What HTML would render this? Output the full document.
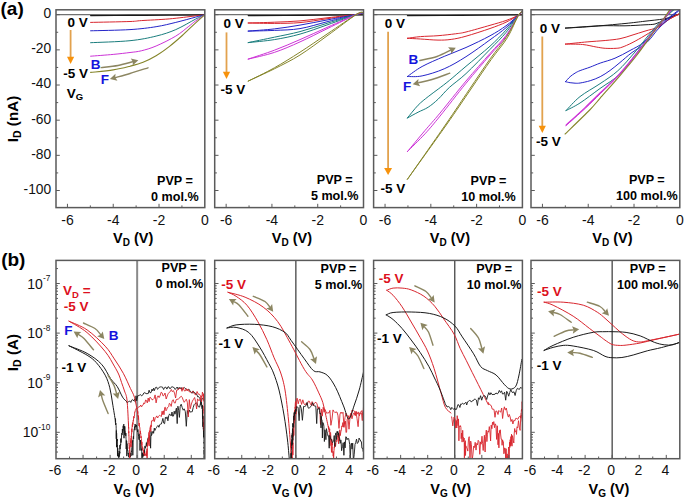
<!DOCTYPE html>
<html><head><meta charset="utf-8"><style>
html,body{margin:0;padding:0;background:#fff;}
svg{display:block;font-family:"Liberation Sans", sans-serif;}
</style></head><body>
<svg width="685" height="497" viewBox="0 0 685 497">
<defs><clipPath id="ct0"><rect x="56.0" y="9.8" width="148.8" height="197.79999999999998"/></clipPath><clipPath id="cb0"><rect x="56.0" y="260.4" width="148.8" height="198.3"/></clipPath><clipPath id="ct1"><rect x="214.7" y="9.8" width="148.8" height="197.79999999999998"/></clipPath><clipPath id="cb1"><rect x="214.7" y="260.4" width="148.8" height="198.3"/></clipPath><clipPath id="ct2"><rect x="373.6" y="9.8" width="148.8" height="197.79999999999998"/></clipPath><clipPath id="cb2"><rect x="373.6" y="260.4" width="148.8" height="198.3"/></clipPath><clipPath id="ct3"><rect x="531.0" y="9.8" width="148.8" height="197.79999999999998"/></clipPath><clipPath id="cb3"><rect x="531.0" y="260.4" width="148.8" height="198.3"/></clipPath></defs>
<rect width="685" height="497" fill="#fff"/>
<line x1="56.00" y1="14.70" x2="204.80" y2="14.70" stroke="#707070" stroke-width="1.3"/>
<line x1="137.16" y1="260.40" x2="137.16" y2="458.70" stroke="#8a8a8a" stroke-width="2.0"/>
<line x1="214.70" y1="14.70" x2="363.50" y2="14.70" stroke="#707070" stroke-width="1.3"/>
<line x1="295.86" y1="260.40" x2="295.86" y2="458.70" stroke="#454545" stroke-width="1.3"/>
<line x1="373.60" y1="14.70" x2="522.40" y2="14.70" stroke="#707070" stroke-width="1.3"/>
<line x1="454.76" y1="260.40" x2="454.76" y2="458.70" stroke="#454545" stroke-width="1.3"/>
<line x1="531.00" y1="14.70" x2="679.80" y2="14.70" stroke="#707070" stroke-width="1.3"/>
<line x1="612.16" y1="260.40" x2="612.16" y2="458.70" stroke="#454545" stroke-width="1.3"/>
<path d="M90.60,15.60 C97.17,15.57 116.77,15.47 130.00,15.40 C143.23,15.33 157.53,15.30 170.00,15.20 C182.47,15.10 199.00,14.87 204.80,14.80" fill="none" stroke="#1a1a1a" stroke-width="1.2" stroke-linejoin="round" stroke-linecap="round" opacity="1.0" clip-path="url(#ct0)"/>
<path d="M90.60,22.40 C97.17,22.25 121.55,21.80 130.00,21.50 C138.45,21.20 134.77,21.03 141.30,20.60 C147.83,20.17 160.18,19.68 169.20,18.90 C178.22,18.12 189.47,16.58 195.40,15.90 C201.33,15.22 203.23,14.98 204.80,14.80" fill="none" stroke="#d8262e" stroke-width="1.0" stroke-linejoin="round" stroke-linecap="round" opacity="1.0" clip-path="url(#ct0)"/>
<path d="M90.60,30.80 C97.17,30.60 119.08,30.28 130.00,29.60 C140.92,28.92 148.47,27.90 156.10,26.70 C163.73,25.50 169.25,23.98 175.80,22.40 C182.35,20.82 190.57,18.47 195.40,17.20 C200.23,15.93 203.23,15.20 204.80,14.80" fill="none" stroke="#2424c8" stroke-width="1.0" stroke-linejoin="round" stroke-linecap="round" opacity="1.0" clip-path="url(#ct0)"/>
<path d="M90.60,42.70 C97.17,42.37 119.08,41.80 130.00,40.70 C140.92,39.60 148.47,37.95 156.10,36.10 C163.73,34.25 169.25,32.42 175.80,29.60 C182.35,26.78 190.57,21.67 195.40,19.20 C200.23,16.73 203.23,15.53 204.80,14.80" fill="none" stroke="#1a7d7d" stroke-width="1.0" stroke-linejoin="round" stroke-linecap="round" opacity="1.0" clip-path="url(#ct0)"/>
<path d="M90.60,56.20 C94.37,55.90 106.63,55.02 113.20,54.40 C119.77,53.78 125.32,53.10 130.00,52.50 C134.68,51.90 136.95,51.88 141.30,50.80 C145.65,49.72 150.35,48.45 156.10,46.00 C161.85,43.55 170.35,39.38 175.80,36.10 C181.25,32.82 185.53,28.80 188.80,26.30 C192.07,23.80 192.73,23.02 195.40,21.10 C198.07,19.18 203.23,15.85 204.80,14.80" fill="none" stroke="#cc33d6" stroke-width="1.0" stroke-linejoin="round" stroke-linecap="round" opacity="1.0" clip-path="url(#ct0)"/>
<path d="M90.60,72.40 C94.37,71.98 106.63,70.93 113.20,69.90 C119.77,68.87 125.02,67.47 130.00,66.20 C134.98,64.93 138.75,64.03 143.10,62.30 C147.45,60.57 151.75,58.42 156.10,55.80 C160.45,53.18 164.83,49.98 169.20,46.60 C173.57,43.22 177.93,39.42 182.30,35.50 C186.67,31.58 191.65,26.55 195.40,23.10 C199.15,19.65 203.23,16.18 204.80,14.80" fill="none" stroke="#85852a" stroke-width="1.1" stroke-linejoin="round" stroke-linecap="round" opacity="1.0" clip-path="url(#ct0)"/>
<path d="M248.20,15.60 C256.83,15.57 280.83,15.53 300.00,15.40 C319.17,15.27 352.67,14.90 363.20,14.80" fill="none" stroke="#1a1a1a" stroke-width="1.2" stroke-linejoin="round" stroke-linecap="round" opacity="1.0" clip-path="url(#ct1)"/>
<path d="M248.20,23.00 C252.57,22.87 265.77,22.55 274.40,22.20 C283.03,21.85 291.07,21.65 300.00,20.90 C308.93,20.15 318.62,18.77 328.00,17.70 C337.38,16.63 350.43,15.35 356.30,14.50 C362.17,13.65 362.05,12.92 363.20,12.60" fill="none" stroke="#d8262e" stroke-width="1.0" stroke-linejoin="round" stroke-linecap="round" opacity="1.0" clip-path="url(#ct1)"/>
<path d="M248.20,23.00 C252.57,23.07 265.77,23.47 274.40,23.40 C283.03,23.33 291.07,23.40 300.00,22.60 C308.93,21.80 318.62,19.95 328.00,18.60 C337.38,17.25 350.43,15.50 356.30,14.50 C362.17,13.50 362.05,12.92 363.20,12.60" fill="none" stroke="#d8262e" stroke-width="1.0" stroke-linejoin="round" stroke-linecap="round" opacity="1.0" clip-path="url(#ct1)"/>
<path d="M248.20,31.10 C252.57,30.73 265.77,29.90 274.40,28.90 C283.03,27.90 291.07,26.62 300.00,25.10 C308.93,23.58 318.62,21.57 328.00,19.80 C337.38,18.03 350.43,15.70 356.30,14.50 C362.17,13.30 362.05,12.92 363.20,12.60" fill="none" stroke="#2424c8" stroke-width="1.0" stroke-linejoin="round" stroke-linecap="round" opacity="1.0" clip-path="url(#ct1)"/>
<path d="M248.20,31.10 C252.57,30.98 265.77,30.82 274.40,30.40 C283.03,29.98 291.07,30.08 300.00,28.60 C308.93,27.12 318.62,23.85 328.00,21.50 C337.38,19.15 350.43,15.98 356.30,14.50 C362.17,13.02 362.05,12.92 363.20,12.60" fill="none" stroke="#2424c8" stroke-width="1.0" stroke-linejoin="round" stroke-linecap="round" opacity="1.0" clip-path="url(#ct1)"/>
<path d="M248.20,42.60 C252.57,41.70 265.77,39.03 274.40,37.20 C283.03,35.37 291.07,33.97 300.00,31.60 C308.93,29.23 318.62,25.85 328.00,23.00 C337.38,20.15 350.43,16.23 356.30,14.50 C362.17,12.77 362.05,12.92 363.20,12.60" fill="none" stroke="#1a7d7d" stroke-width="1.0" stroke-linejoin="round" stroke-linecap="round" opacity="1.0" clip-path="url(#ct1)"/>
<path d="M248.20,42.60 C252.57,42.10 265.77,41.02 274.40,39.60 C283.03,38.18 291.07,36.60 300.00,34.10 C308.93,31.60 318.62,27.87 328.00,24.60 C337.38,21.33 350.43,16.50 356.30,14.50 C362.17,12.50 362.05,12.92 363.20,12.60" fill="none" stroke="#1a7d7d" stroke-width="1.0" stroke-linejoin="round" stroke-linecap="round" opacity="1.0" clip-path="url(#ct1)"/>
<path d="M248.20,59.10 C252.57,57.62 265.77,53.45 274.40,50.20 C283.03,46.95 291.07,43.47 300.00,39.60 C308.93,35.73 318.62,31.18 328.00,27.00 C337.38,22.82 350.43,16.90 356.30,14.50 C362.17,12.10 362.05,12.92 363.20,12.60" fill="none" stroke="#cc33d6" stroke-width="1.0" stroke-linejoin="round" stroke-linecap="round" opacity="1.0" clip-path="url(#ct1)"/>
<path d="M248.20,59.10 C252.57,57.98 265.77,55.27 274.40,52.40 C283.03,49.53 291.07,45.92 300.00,41.90 C308.93,37.88 318.62,32.87 328.00,28.30 C337.38,23.73 350.43,17.12 356.30,14.50 C362.17,11.88 362.05,12.92 363.20,12.60" fill="none" stroke="#cc33d6" stroke-width="1.0" stroke-linejoin="round" stroke-linecap="round" opacity="1.0" clip-path="url(#ct1)"/>
<path d="M248.20,81.10 C252.57,78.88 265.77,72.62 274.40,67.80 C283.03,62.98 291.07,57.93 300.00,52.20 C308.93,46.47 318.62,39.68 328.00,33.40 C337.38,27.12 350.43,17.97 356.30,14.50 C362.17,11.03 362.05,12.92 363.20,12.60" fill="none" stroke="#85852a" stroke-width="1.0" stroke-linejoin="round" stroke-linecap="round" opacity="1.0" clip-path="url(#ct1)"/>
<path d="M248.20,81.10 C252.57,79.05 265.77,73.15 274.40,68.80 C283.03,64.45 291.07,60.60 300.00,55.00 C308.93,49.40 318.62,41.95 328.00,35.20 C337.38,28.45 350.43,18.27 356.30,14.50 C362.17,10.73 362.05,12.92 363.20,12.60" fill="none" stroke="#85852a" stroke-width="1.0" stroke-linejoin="round" stroke-linecap="round" opacity="1.0" clip-path="url(#ct1)"/>
<path d="M407.40,15.60 C416.17,15.57 440.83,15.53 460.00,15.40 C479.17,15.27 512.00,14.90 522.40,14.80" fill="none" stroke="#1a1a1a" stroke-width="1.2" stroke-linejoin="round" stroke-linecap="round" opacity="1.0" clip-path="url(#ct2)"/>
<path d="M407.40,38.30 C409.58,38.02 415.40,37.03 420.50,36.60 C425.60,36.17 432.17,36.17 438.00,35.70 C443.83,35.23 450.83,34.42 455.50,33.80 C460.17,33.18 460.25,33.42 466.00,32.00 C471.75,30.58 483.33,27.22 490.00,25.30 C496.67,23.38 501.25,22.18 506.00,20.50 C510.75,18.82 515.80,16.65 518.50,15.20 C521.20,13.75 521.58,12.37 522.20,11.80" fill="none" stroke="#d8262e" stroke-width="1.0" stroke-linejoin="round" stroke-linecap="round" opacity="1.0" clip-path="url(#ct2)"/>
<path d="M407.40,38.30 C409.58,38.42 415.40,38.70 420.50,39.00 C425.60,39.30 432.88,40.03 438.00,40.10 C443.12,40.17 446.53,40.05 451.20,39.40 C455.87,38.75 459.53,38.02 466.00,36.20 C472.47,34.38 483.33,30.83 490.00,28.50 C496.67,26.17 501.25,24.42 506.00,22.20 C510.75,19.98 515.80,16.93 518.50,15.20 C521.20,13.47 521.58,12.37 522.20,11.80" fill="none" stroke="#d8262e" stroke-width="1.0" stroke-linejoin="round" stroke-linecap="round" opacity="1.0" clip-path="url(#ct2)"/>
<path d="M407.40,76.50 C409.85,74.83 415.97,69.85 422.10,66.50 C428.23,63.15 436.88,59.57 444.20,56.40 C451.52,53.23 458.37,50.93 466.00,47.50 C473.63,44.07 483.33,39.42 490.00,35.80 C496.67,32.18 501.25,29.23 506.00,25.80 C510.75,22.37 515.80,17.53 518.50,15.20 C521.20,12.87 521.58,12.37 522.20,11.80" fill="none" stroke="#2424c8" stroke-width="1.0" stroke-linejoin="round" stroke-linecap="round" opacity="1.0" clip-path="url(#ct2)"/>
<path d="M407.40,76.50 C409.85,76.40 415.97,77.18 422.10,75.90 C428.23,74.62 436.88,72.00 444.20,68.80 C451.52,65.60 458.37,61.53 466.00,56.70 C473.63,51.87 483.33,44.63 490.00,39.80 C496.67,34.97 501.25,31.80 506.00,27.70 C510.75,23.60 515.80,17.85 518.50,15.20 C521.20,12.55 521.58,12.37 522.20,11.80" fill="none" stroke="#2424c8" stroke-width="1.0" stroke-linejoin="round" stroke-linecap="round" opacity="1.0" clip-path="url(#ct2)"/>
<path d="M407.40,118.00 C409.18,115.87 414.63,108.77 418.10,105.20 C421.57,101.63 424.85,99.28 428.20,96.60 C431.55,93.92 434.68,91.78 438.20,89.10 C441.72,86.42 444.67,84.30 449.30,80.50 C453.93,76.70 459.22,72.02 466.00,66.30 C472.78,60.58 483.33,52.23 490.00,46.20 C496.67,40.17 501.25,35.27 506.00,30.10 C510.75,24.93 515.80,18.25 518.50,15.20 C521.20,12.15 521.58,12.37 522.20,11.80" fill="none" stroke="#1a7d7d" stroke-width="1.0" stroke-linejoin="round" stroke-linecap="round" opacity="1.0" clip-path="url(#ct2)"/>
<path d="M407.40,118.00 C409.18,117.03 414.63,114.00 418.10,112.20 C421.57,110.40 424.85,109.38 428.20,107.20 C431.55,105.02 434.68,102.38 438.20,99.10 C441.72,95.82 444.67,91.75 449.30,87.50 C453.93,83.25 459.22,79.95 466.00,73.60 C472.78,67.25 483.33,56.25 490.00,49.40 C496.67,42.55 501.25,38.20 506.00,32.50 C510.75,26.80 515.80,18.65 518.50,15.20 C521.20,11.75 521.58,12.37 522.20,11.80" fill="none" stroke="#1a7d7d" stroke-width="1.0" stroke-linejoin="round" stroke-linecap="round" opacity="1.0" clip-path="url(#ct2)"/>
<path d="M407.40,151.60 C410.33,148.08 419.57,136.92 425.00,130.50 C430.43,124.08 433.17,121.35 440.00,113.10 C446.83,104.85 457.67,90.93 466.00,81.00 C474.33,71.07 483.33,61.08 490.00,53.50 C496.67,45.92 501.25,41.88 506.00,35.50 C510.75,29.12 515.80,19.15 518.50,15.20 C521.20,11.25 521.58,12.37 522.20,11.80" fill="none" stroke="#cc33d6" stroke-width="1.0" stroke-linejoin="round" stroke-linecap="round" opacity="1.0" clip-path="url(#ct2)"/>
<path d="M407.40,151.60 C410.33,148.63 419.57,139.72 425.00,133.80 C430.43,127.88 433.17,124.52 440.00,116.10 C446.83,107.68 457.67,93.48 466.00,83.30 C474.33,73.12 483.33,62.78 490.00,55.00 C496.67,47.22 501.25,43.23 506.00,36.60 C510.75,29.97 515.80,19.33 518.50,15.20 C521.20,11.07 521.58,12.37 522.20,11.80" fill="none" stroke="#cc33d6" stroke-width="1.0" stroke-linejoin="round" stroke-linecap="round" opacity="1.0" clip-path="url(#ct2)"/>
<path d="M407.40,179.30 C413.72,170.25 434.98,139.97 445.30,125.00 C455.62,110.03 461.82,100.53 469.30,89.50 C476.78,78.47 484.03,67.52 490.20,58.80 C496.37,50.08 501.58,44.47 506.30,37.20 C511.02,29.93 515.85,19.43 518.50,15.20 C521.15,10.97 521.58,12.37 522.20,11.80" fill="none" stroke="#85852a" stroke-width="1.0" stroke-linejoin="round" stroke-linecap="round" opacity="1.0" clip-path="url(#ct2)"/>
<path d="M407.40,179.30 C413.88,170.25 435.82,139.88 446.30,125.00 C456.78,110.12 462.82,100.92 470.30,90.00 C477.78,79.08 485.03,68.20 491.20,59.50 C497.37,50.80 502.75,45.18 507.30,37.80 C511.85,30.42 516.02,19.53 518.50,15.20 C520.98,10.87 521.58,12.37 522.20,11.80" fill="none" stroke="#85852a" stroke-width="1.0" stroke-linejoin="round" stroke-linecap="round" opacity="1.0" clip-path="url(#ct2)"/>
<path d="M565.40,28.10 C569.50,27.85 580.07,27.37 590.00,26.60 C599.93,25.83 615.83,24.40 625.00,23.50 C634.17,22.60 638.63,21.95 645.00,21.20 C651.37,20.45 658.70,19.78 663.20,19.00 C667.70,18.22 669.28,17.33 672.00,16.50 C674.72,15.67 678.25,14.42 679.50,14.00" fill="none" stroke="#1a1a1a" stroke-width="1.0" stroke-linejoin="round" stroke-linecap="round" opacity="1.0" clip-path="url(#ct3)"/>
<path d="M565.40,28.10 C571.17,27.72 590.07,26.18 600.00,25.80 C609.93,25.42 617.50,25.97 625.00,25.80 C632.50,25.63 640.00,25.10 645.00,24.80 C650.00,24.50 651.97,24.72 655.00,24.00 C658.03,23.28 660.37,21.70 663.20,20.50 C666.03,19.30 669.28,17.88 672.00,16.80 C674.72,15.72 678.25,14.47 679.50,14.00" fill="none" stroke="#1a1a1a" stroke-width="1.0" stroke-linejoin="round" stroke-linecap="round" opacity="1.0" clip-path="url(#ct3)"/>
<path d="M565.40,44.10 C569.02,43.73 580.47,42.50 587.10,41.90 C593.73,41.30 599.72,41.03 605.20,40.50 C610.68,39.97 615.53,39.58 620.00,38.70 C624.47,37.82 627.83,36.47 632.00,35.20 C636.17,33.93 640.63,32.45 645.00,31.10 C649.37,29.75 654.37,28.95 658.20,27.10 C662.03,25.25 664.53,22.18 668.00,20.00 C671.47,17.82 677.17,15.00 679.00,14.00" fill="none" stroke="#d8262e" stroke-width="1.0" stroke-linejoin="round" stroke-linecap="round" opacity="1.0" clip-path="url(#ct3)"/>
<path d="M565.40,44.10 C568.27,44.17 577.47,44.02 582.60,44.50 C587.73,44.98 592.43,46.37 596.20,47.00 C599.97,47.63 601.88,48.08 605.20,48.30 C608.52,48.52 613.30,48.48 616.10,48.30 C618.90,48.12 619.35,48.12 622.00,47.20 C624.65,46.28 628.17,44.75 632.00,42.80 C635.83,40.85 640.63,38.12 645.00,35.50 C649.37,32.88 654.37,29.68 658.20,27.10 C662.03,24.52 664.53,22.18 668.00,20.00 C671.47,17.82 677.17,15.00 679.00,14.00" fill="none" stroke="#d8262e" stroke-width="1.0" stroke-linejoin="round" stroke-linecap="round" opacity="1.0" clip-path="url(#ct3)"/>
<path d="M565.50,81.70 C566.27,80.87 568.50,78.13 570.10,76.70 C571.70,75.27 573.43,74.12 575.10,73.10 C576.77,72.08 577.58,71.60 580.10,70.60 C582.62,69.60 586.85,68.35 590.20,67.10 C593.55,65.85 596.07,64.58 600.20,63.10 C604.33,61.62 610.03,60.30 615.00,58.20 C619.97,56.10 625.17,53.18 630.00,50.50 C634.83,47.82 639.00,46.35 644.00,42.10 C649.00,37.85 654.08,30.43 660.00,25.00 C665.92,19.57 676.25,12.08 679.50,9.50" fill="none" stroke="#2424c8" stroke-width="1.0" stroke-linejoin="round" stroke-linecap="round" opacity="1.0" clip-path="url(#ct3)"/>
<path d="M565.50,81.70 C566.27,81.87 568.50,82.45 570.10,82.70 C571.70,82.95 573.43,83.15 575.10,83.20 C576.77,83.25 577.58,83.42 580.10,83.00 C582.62,82.58 586.85,81.75 590.20,80.70 C593.55,79.65 596.90,78.40 600.20,76.70 C603.50,75.00 606.70,72.87 610.00,70.50 C613.30,68.13 616.33,65.50 620.00,62.50 C623.67,59.50 627.47,55.90 632.00,52.50 C636.53,49.10 642.53,46.35 647.20,42.10 C651.87,37.85 654.57,32.35 660.00,27.00 C665.43,21.65 676.50,12.83 679.80,10.00" fill="none" stroke="#2424c8" stroke-width="1.0" stroke-linejoin="round" stroke-linecap="round" opacity="1.0" clip-path="url(#ct3)"/>
<path d="M566.00,110.60 C568.33,108.27 574.33,101.08 580.00,96.60 C585.67,92.12 593.70,88.00 600.00,83.70 C606.30,79.40 611.97,76.08 617.80,70.80 C623.63,65.52 629.30,58.63 635.00,52.00 C640.70,45.37 647.00,36.83 652.00,31.00 C657.00,25.17 661.17,20.83 665.00,17.00 C668.83,13.17 673.33,9.50 675.00,8.00" fill="none" stroke="#1a7d7d" stroke-width="1.0" stroke-linejoin="round" stroke-linecap="round" opacity="1.0" clip-path="url(#ct3)"/>
<path d="M566.00,110.60 C568.33,109.33 574.33,106.68 580.00,103.00 C585.67,99.32 593.33,93.33 600.00,88.50 C606.67,83.67 613.83,80.00 620.00,74.00 C626.17,68.00 631.50,59.58 637.00,52.50 C642.50,45.42 648.17,37.42 653.00,31.50 C657.83,25.58 662.17,20.92 666.00,17.00 C669.83,13.08 674.33,9.50 676.00,8.00" fill="none" stroke="#1a7d7d" stroke-width="1.0" stroke-linejoin="round" stroke-linecap="round" opacity="1.0" clip-path="url(#ct3)"/>
<path d="M566.00,125.10 C569.13,122.22 579.13,113.15 584.80,107.80 C590.47,102.45 594.37,98.50 600.00,93.00 C605.63,87.50 612.60,81.30 618.60,74.80 C624.60,68.30 630.27,61.13 636.00,54.00 C641.73,46.87 648.17,38.17 653.00,32.00 C657.83,25.83 661.67,21.00 665.00,17.00 C668.33,13.00 671.67,9.50 673.00,8.00" fill="none" stroke="#cc33d6" stroke-width="1.1" stroke-linejoin="round" stroke-linecap="round" opacity="1.0" clip-path="url(#ct3)"/>
<path d="M566.00,125.60 C569.22,122.72 579.55,113.65 585.30,108.30 C591.05,102.95 594.88,99.00 600.50,93.50 C606.12,88.00 613.00,81.80 619.00,75.30 C625.00,68.80 630.75,61.63 636.50,54.50 C642.25,47.37 648.67,38.67 653.50,32.50 C658.33,26.33 662.17,21.58 665.50,17.50 C668.83,13.42 672.17,9.58 673.50,8.00" fill="none" stroke="#cc33d6" stroke-width="1.0" stroke-linejoin="round" stroke-linecap="round" opacity="1.0" clip-path="url(#ct3)"/>
<path d="M565.10,134.00 C569.20,130.00 583.88,115.95 589.70,110.00 C595.52,104.05 594.95,104.03 600.00,98.30 C605.05,92.57 613.83,82.82 620.00,75.60 C626.17,68.38 631.50,62.10 637.00,55.00 C642.50,47.90 648.47,39.17 653.00,33.00 C657.53,26.83 661.20,22.17 664.20,18.00 C667.20,13.83 669.87,9.67 671.00,8.00" fill="none" stroke="#85852a" stroke-width="1.1" stroke-linejoin="round" stroke-linecap="round" opacity="1.0" clip-path="url(#ct3)"/>
<path d="M69.00,345.80 C72.02,347.07 81.67,350.32 87.10,353.40 C92.53,356.48 97.67,360.07 101.60,364.30 C105.53,368.53 108.10,375.10 110.70,378.80 C113.30,382.50 115.22,383.43 117.20,386.50 C119.18,389.57 121.08,394.75 122.60,397.20 C124.12,399.65 125.68,400.53 126.30,401.20" fill="none" stroke="#1a1a1a" stroke-width="1.0" stroke-linejoin="round" stroke-linecap="round" opacity="1.0" clip-path="url(#cb0)"/>
<path d="M126.3,401.0 L127.1,402.8 L128.3,401.8 L129.7,401.0 L130.8,402.4 L131.7,400.2 L132.4,399.5 L133.1,400.5 L134.0,400.5 L134.6,398.9 L135.3,402.1 L136.0,395.8 L136.7,400.8 L137.7,395.8 L138.9,395.5 L139.7,395.1 L140.6,394.6 L141.6,395.9 L142.7,395.1 L143.8,393.0 L144.9,392.6 L146.0,393.7 L147.1,393.6 L148.2,393.6 L149.1,390.2 L150.0,392.8 L151.1,392.5 L152.0,389.1 L152.8,390.9 L153.6,388.2 L154.4,390.6 L155.4,387.6 L156.7,387.2 L157.5,389.3 L158.4,388.5 L159.3,387.2 L160.3,386.9 L161.4,386.9 L162.5,387.1 L163.6,389.5 L164.7,387.4 L165.8,387.1 L166.9,389.1 L168.0,386.7 L169.0,387.1 L170.0,388.9 L171.1,387.3 L172.1,386.7 L173.1,387.2 L174.2,387.6 L175.2,389.5 L176.2,388.2 L177.2,387.0 L178.2,389.4 L179.2,387.3 L180.1,389.0 L181.1,387.4 L182.0,389.7 L183.1,388.5 L184.2,387.5 L185.2,388.4 L186.2,388.8 L187.2,390.3 L188.2,389.3 L189.2,389.4 L190.2,391.3 L191.1,391.9 L192.0,393.3 L193.0,390.9 L194.0,392.9 L194.9,392.6 L195.9,394.4 L196.8,394.3 L197.7,396.9 L198.5,396.5 L199.3,397.8 L200.0,398.3 L201.0,405.2 L201.9,398.5 L202.8,398.7 L203.5,398.6 L204.1,401.3 L204.5,401.8" fill="none" stroke="#1a1a1a" stroke-width="0.9" stroke-linejoin="round" clip-path="url(#cb0)" opacity="1.0"/>
<path d="M69.00,345.80 C72.02,347.37 82.57,352.42 87.10,355.20 C91.63,357.98 93.18,359.17 96.20,362.50 C99.22,365.83 102.93,370.98 105.20,375.20 C107.47,379.42 108.58,383.17 109.80,387.80 C111.02,392.43 111.57,397.50 112.50,403.00 C113.43,408.50 114.92,417.83 115.40,420.80" fill="none" stroke="#1a1a1a" stroke-width="1.0" stroke-linejoin="round" stroke-linecap="round" opacity="1.0" clip-path="url(#cb0)"/>
<path d="M115.4,420.6 L115.4,422.5 L115.5,418.6 L115.6,421.2 L115.6,424.9 L115.7,424.9 L115.8,423.0 L115.9,424.2 L116.0,424.5 L116.1,425.7 L116.2,428.7 L116.3,438.9 L116.3,435.1 L116.4,430.5 L116.5,447.2 L116.6,433.1 L116.7,437.7 L116.8,446.0 L116.9,441.2 L117.0,439.4 L117.1,440.9 L117.2,439.0 L117.2,446.8 L117.3,445.9 L117.4,445.1 L117.5,456.1 L117.5,447.8 L117.6,452.2 L117.7,448.0 L117.8,452.0 L117.8,451.7 L117.9,453.9 L118.0,452.9 L118.1,454.2 L118.2,453.9 L118.3,456.5 L118.4,454.8 L118.5,456.0 L118.6,457.7 L118.7,457.4 L118.9,454.7 L119.0,455.4 L119.1,457.3 L119.2,451.1 L119.4,455.4 L119.5,455.7 L119.7,451.9 L119.8,453.3 L119.9,445.1 L120.1,449.1 L120.2,446.8 L120.4,444.7 L120.5,444.1 L120.7,445.2 L120.8,438.6 L121.0,442.6 L121.2,441.9 L121.4,439.0 L121.6,434.2 L121.8,433.2 L122.0,434.8 L122.2,434.8 L122.4,429.0 L122.6,432.9 L122.8,429.2 L123.0,430.5 L123.2,425.8 L123.4,428.5 L123.6,425.8 L123.8,424.1 L124.0,438.2 L124.2,428.0 L124.3,428.4 L124.5,426.4 L124.6,434.8 L124.8,426.4 L124.9,430.0 L125.0,430.5 L125.2,431.1 L125.3,431.3 L125.5,432.6 L125.7,435.8 L125.8,433.0 L126.0,438.5 L126.1,439.5 L126.2,449.0 L126.4,440.5 L126.5,443.2 L126.7,441.3 L126.8,456.1 L127.0,443.5 L127.2,445.8 L127.5,450.6 L127.7,450.5 L127.9,450.3 L128.2,454.3 L128.4,453.0 L128.6,456.8 L128.8,455.8 L129.1,455.8 L129.3,458.4 L129.5,458.2 L129.8,457.0 L130.0,456.8 L130.2,456.8 L130.3,454.8 L130.5,457.1 L130.7,452.8 L130.8,453.7 L131.0,454.9 L131.2,455.7 L131.3,450.7 L131.5,451.7 L131.7,450.3 L131.8,447.6 L132.0,445.3 L132.2,444.8 L132.3,443.7 L132.5,440.9 L132.7,440.3 L132.8,455.3 L133.0,442.6 L133.2,437.9 L133.4,436.3 L133.6,438.9 L133.8,433.0 L134.0,430.3 L134.2,428.9 L134.3,428.7 L134.5,428.4 L134.7,426.5 L134.9,430.2 L135.1,424.0 L135.3,426.3 L135.5,425.7 L135.8,427.2 L136.0,425.9 L136.2,426.1 L136.5,424.9 L136.8,427.6 L137.0,429.8 L137.3,430.3 L137.6,432.0 L137.9,429.5 L138.1,432.0 L138.4,434.9 L138.7,436.6 L139.0,439.7 L139.2,433.8 L139.5,438.6 L139.8,442.2 L140.0,450.5 L140.2,444.0 L140.5,440.1 L140.7,442.9 L140.9,443.4 L141.1,443.0 L141.3,450.4 L141.5,450.3 L141.7,448.7 L141.8,453.8 L142.0,460.4 L142.2,452.7 L142.4,455.9 L142.6,453.1 L142.8,457.3 L143.0,454.9 L143.3,455.9 L143.6,453.6 L143.9,453.0 L144.2,450.1 L144.4,454.7 L144.7,448.4 L145.0,445.9 L145.3,448.3 L145.7,446.4 L146.0,445.5 L146.4,442.6 L146.8,446.3 L147.3,441.8 L147.8,438.4 L148.2,437.6 L148.7,437.7 L149.2,440.7 L149.6,435.6 L150.0,435.3 L150.6,448.2 L151.0,431.3 L151.5,435.6 L152.1,433.8 L153.1,431.1 L153.6,433.3 L154.3,428.1 L154.9,430.5 L155.7,428.6 L156.4,427.7 L157.2,426.4 L158.0,425.4 L158.9,427.3 L159.7,424.9 L160.5,424.0 L161.3,424.0 L162.1,421.5 L162.9,418.4 L163.7,423.1 L164.6,423.7 L165.4,417.3 L166.2,418.6 L167.1,416.8 L167.9,420.8 L168.7,415.8 L169.6,413.9 L170.4,415.0 L171.2,415.9 L172.0,412.0 L172.7,416.3 L173.5,416.0 L174.2,411.2 L175.0,414.2 L175.7,410.9 L176.4,408.1 L177.2,423.6 L177.9,406.2 L178.7,410.3 L179.4,417.4 L180.2,406.2 L181.2,404.2 L182.2,407.5 L183.2,410.2 L184.2,408.8 L185.3,411.6 L186.3,426.3 L187.3,410.5 L188.3,414.0 L189.3,410.0 L190.2,412.1 L191.2,411.8 L192.2,411.8 L193.2,407.5 L194.1,404.7 L195.1,403.6 L196.0,403.5 L196.8,402.7 L197.6,405.0 L198.3,406.7 L199.6,407.1 L200.6,402.6 L201.4,402.3 L202.0,407.4 L202.1,408.8 L202.2,405.7 L202.3,407.4 L202.4,405.3 L202.5,418.8 L202.5,409.7 L202.6,411.7 L202.7,412.4 L202.8,416.0 L202.8,416.8 L202.9,426.7 L202.9,419.4 L203.0,418.9 L203.0,415.9 L203.1,416.7 L203.1,420.4 L203.2,423.3 L203.2,425.1 L203.3,427.2 L203.3,422.4 L203.4,429.3 L203.4,427.6 L203.5,432.8 L203.5,429.9 L203.5,434.0 L203.6,433.2 L203.6,434.9 L203.7,437.4 L203.7,436.4 L203.7,433.9 L203.8,437.0 L203.8,436.4 L203.8,437.4 L203.9,439.6 L203.9,443.3 L203.9,442.7 L204.0,442.3 L204.0,448.4 L204.0,447.7 L204.0,448.0 L204.1,447.6 L204.1,447.6 L204.1,452.5 L204.2,454.7 L204.2,450.0 L204.2,454.5 L204.2,455.0 L204.2,458.8 L204.3,459.0 L204.3,455.3 L204.3,455.7 L204.3,460.7" fill="none" stroke="#1a1a1a" stroke-width="0.9" stroke-linejoin="round" clip-path="url(#cb0)" opacity="1.0"/>
<path d="M69.00,321.20 C72.02,322.65 81.07,325.73 87.10,329.90 C93.13,334.07 100.67,341.37 105.20,346.20 C109.73,351.03 111.28,354.38 114.30,358.90 C117.32,363.42 120.62,368.38 123.30,373.30 C125.98,378.22 128.55,384.42 130.40,388.40 C132.25,392.38 133.22,393.27 134.40,397.20 C135.58,401.13 136.98,409.53 137.50,412.00" fill="none" stroke="#d8262e" stroke-width="1.0" stroke-linejoin="round" stroke-linecap="round" opacity="1.0" clip-path="url(#cb0)"/>
<path d="M137.5,410.6 L137.6,413.7 L137.7,411.3 L137.8,411.8 L137.9,416.2 L138.0,415.9 L138.1,415.4 L138.3,419.7 L138.4,415.9 L138.6,417.8 L138.8,422.9 L138.9,424.1 L139.1,426.0 L139.2,423.0 L139.4,425.6 L139.6,427.2 L139.7,427.1 L139.9,427.9 L140.0,431.9 L140.1,433.9 L140.3,432.4 L140.4,430.9 L140.6,433.8 L140.7,433.5 L140.8,434.9 L141.0,438.0 L141.1,436.3 L141.2,438.0 L141.4,438.8 L141.5,439.1 L141.7,445.4 L141.8,445.0 L141.9,441.9 L142.1,447.4 L142.2,447.2 L142.4,446.7 L142.5,450.3 L142.8,447.7 L143.1,450.2 L143.4,450.1 L143.7,454.1 L144.1,452.9 L144.4,456.0 L144.7,455.4 L144.9,455.8 L145.2,455.0 L145.5,454.6 L145.8,453.7 L146.1,455.7 L146.3,451.4 L146.5,456.1 L146.8,454.4 L147.0,448.8 L147.1,458.6 L147.3,447.5 L147.4,444.3 L147.5,446.3 L147.6,445.4 L147.7,445.2 L147.9,440.3 L148.0,444.5 L148.1,439.5 L148.2,442.0 L148.4,439.5 L148.5,436.5 L148.7,435.1 L148.9,433.1 L149.0,432.3 L149.2,446.1 L149.4,430.8 L149.6,432.0 L149.8,429.5 L150.1,427.6 L150.3,426.6 L150.5,426.3 L150.8,431.6 L151.0,424.9 L151.2,426.9 L151.5,420.9 L151.9,420.5 L152.4,420.7 L153.1,421.0 L153.7,417.1 L154.3,421.6 L155.1,418.7 L155.9,417.3 L156.8,415.9 L157.6,418.0 L158.6,416.4 L159.5,415.3 L160.4,415.7 L161.3,416.6 L162.1,411.2 L162.7,414.6 L163.4,410.8 L164.0,414.7 L164.7,407.5 L165.3,407.2 L166.0,410.8 L166.7,409.6 L167.3,407.6 L168.0,407.4 L168.6,406.8 L169.3,403.4 L169.9,403.6 L170.6,404.9 L171.2,406.4 L172.2,400.8 L173.2,399.7 L174.2,402.7 L175.2,403.1 L176.2,399.6 L177.2,399.2 L178.2,399.4 L179.2,398.2 L180.2,397.0 L181.2,396.2 L182.2,397.3 L183.2,400.1 L184.2,402.3 L185.3,400.6 L186.3,399.2 L187.3,402.2 L188.3,417.0 L189.3,399.6 L190.3,408.7 L191.4,404.0 L192.4,401.1 L193.5,399.3 L194.6,397.5 L195.6,401.6 L196.6,409.0 L197.5,398.8 L198.3,400.3 L199.7,400.2 L200.9,397.9 L201.9,395.6 L202.8,395.2 L203.5,394.5 L203.6,397.9 L203.7,394.4 L203.7,398.4 L203.8,400.2 L203.9,398.6 L203.9,400.2 L204.0,400.7 L204.0,401.8 L204.0,402.3 L204.1,406.8 L204.1,413.6 L204.1,406.1 L204.2,409.5 L204.2,408.8 L204.2,410.7 L204.2,409.0 L204.2,410.7 L204.2,412.9 L204.2,413.6 L204.2,415.3 L204.3,426.0 L204.3,424.8 L204.3,418.5 L204.3,418.5 L204.3,419.8 L204.3,424.0 L204.3,425.5 L204.3,426.8 L204.3,428.6 L204.3,424.7 L204.3,428.2 L204.3,430.5 L204.3,430.7 L204.3,429.5" fill="none" stroke="#d8262e" stroke-width="0.9" stroke-linejoin="round" clip-path="url(#cb0)" opacity="1.0"/>
<path d="M69.00,321.20 C72.02,323.10 81.07,327.53 87.10,332.60 C93.13,337.67 100.67,346.02 105.20,351.60 C109.73,357.18 112.00,362.20 114.30,366.10 C116.60,370.00 117.80,372.28 119.00,375.00 C120.20,377.72 120.58,379.73 121.50,382.40 C122.42,385.07 123.58,388.07 124.50,391.00 C125.42,393.93 126.33,394.33 127.00,400.00 C127.67,405.67 128.25,420.83 128.50,425.00" fill="none" stroke="#d8262e" stroke-width="1.0" stroke-linejoin="round" stroke-linecap="round" opacity="1.0" clip-path="url(#cb0)"/>
<path d="M128.5,423.1 L128.5,426.3 L128.5,425.2 L128.6,428.2 L128.6,427.1 L128.6,428.6 L128.7,428.3 L128.7,433.2 L128.8,431.4 L128.8,434.4 L128.8,435.3 L128.9,434.8 L128.9,435.9 L129.0,437.0 L129.0,442.6 L129.1,443.9 L129.1,443.3 L129.2,444.9 L129.2,445.5 L129.3,444.6 L129.3,448.9 L129.4,446.5 L129.4,447.3 L129.5,449.3 L129.5,451.3 L129.7,458.2 L129.9,448.3 L130.2,446.0 L130.5,445.9 L130.6,444.1 L130.7,443.3 L130.7,440.8 L130.8,440.6 L130.9,443.0 L131.0,438.2 L131.1,447.1 L131.2,439.9 L131.3,435.9 L131.4,437.6 L131.5,433.4 L131.6,433.9 L131.7,430.9 L131.8,428.8 L131.9,432.2 L132.0,427.8 L132.1,427.1 L132.3,424.6 L132.4,424.4 L132.5,426.8 L132.7,422.5 L132.9,424.5 L133.0,422.6 L133.2,420.4 L133.4,421.2 L133.6,418.0 L133.8,416.3 L134.0,418.1 L134.2,416.3 L134.5,416.1 L134.7,412.0 L135.0,412.3 L135.3,410.6 L135.9,409.1 L136.6,407.9 L137.3,408.7 L138.0,407.8 L138.9,406.6 L139.8,406.7 L140.8,405.0 L141.5,406.8 L142.2,405.9 L143.0,405.1 L143.8,402.9 L144.7,403.7 L145.6,400.0 L146.4,400.4 L147.3,402.9 L148.2,398.0 L149.1,401.6 L150.0,397.1 L151.0,398.1 L152.0,399.8 L153.0,399.6 L154.1,398.5 L155.1,394.9 L156.1,402.9 L157.2,397.3 L158.1,395.8 L159.1,397.6 L160.0,395.9 L161.2,392.2 L162.1,392.9 L163.1,396.0 L164.0,395.3 L165.0,393.0 L166.2,399.0 L167.6,394.8 L168.4,393.4 L169.3,392.3 L170.3,391.6 L171.3,389.5 L172.3,391.7 L173.4,390.6 L174.5,393.0 L175.6,398.0 L176.7,390.1 L177.8,390.0 L178.9,388.4 L180.0,388.4 L181.0,388.3 L182.0,391.3 L183.0,387.3 L184.1,390.5 L185.1,391.1 L186.2,388.7 L187.2,390.9 L188.2,389.1 L189.2,391.8 L190.2,391.7 L191.1,392.8 L192.1,391.8 L193.0,391.2 L193.8,393.0 L194.7,394.3 L195.9,394.8 L197.1,391.5 L198.3,394.2 L199.4,394.2 L200.5,396.0 L201.5,402.0 L202.4,392.1 L203.1,394.7 L203.7,393.5" fill="none" stroke="#d8262e" stroke-width="0.9" stroke-linejoin="round" clip-path="url(#cb0)" opacity="1.0"/>
<path d="M228.00,292.30 C230.85,293.12 239.23,294.73 245.10,297.20 C250.97,299.67 257.77,303.03 263.20,307.10 C268.63,311.17 273.17,315.57 277.70,321.60 C282.23,327.63 285.97,335.35 290.40,343.30 C294.83,351.25 300.63,363.18 304.30,369.30 C307.97,375.42 309.98,376.07 312.40,380.00 C314.82,383.93 317.07,389.15 318.80,392.90 C320.53,396.65 321.68,398.98 322.80,402.50 C323.92,406.02 324.55,409.75 325.50,414.00 C326.45,418.25 328.00,425.67 328.50,428.00" fill="none" stroke="#d8262e" stroke-width="1.0" stroke-linejoin="round" stroke-linecap="round" opacity="1.0" clip-path="url(#cb1)"/>
<path d="M328.5,425.9 L328.7,429.4 L328.9,427.5 L329.1,432.1 L329.4,431.1 L329.7,428.9 L330.0,445.7 L330.3,432.5 L330.6,432.5 L330.9,438.1 L331.2,445.9 L331.5,452.4 L331.7,439.2 L331.9,443.0 L332.0,444.8 L332.1,443.6 L332.3,444.4 L332.4,442.8 L332.5,445.4 L332.6,446.4 L332.7,452.0 L332.8,452.3 L332.9,453.1 L333.0,452.3 L333.1,451.3 L333.2,456.2 L333.3,453.1 L333.5,453.3 L333.6,458.0 L333.8,454.1 L334.0,451.6 L334.1,450.7 L334.3,447.1 L334.5,447.9 L334.8,444.1 L335.0,444.0 L335.2,443.0 L335.5,446.6 L335.8,444.0 L336.1,440.1 L336.4,441.0 L336.7,441.7 L337.0,440.9 L337.4,437.4 L337.7,435.8 L338.0,433.4 L338.5,443.8 L338.9,434.6 L339.4,440.9 L339.8,429.8 L340.3,435.6 L340.8,431.9 L341.4,429.9 L341.8,425.9 L342.3,426.7 L342.8,422.6 L343.3,426.9 L343.8,426.2 L344.3,422.3 L344.8,424.1 L345.4,421.1 L346.0,432.6 L346.6,432.1 L347.2,419.1 L347.9,417.8 L348.6,415.7 L349.3,417.9 L350.0,416.3 L350.7,413.3 L351.4,415.4 L352.0,410.1 L352.6,411.1 L353.6,410.5 L354.5,411.2 L355.3,415.7 L356.1,412.5 L357.0,418.4 L358.1,426.7 L359.2,413.1 L360.4,413.4 L361.5,413.2 L362.3,420.6 L362.7,411.7 L363.0,410.5 L363.3,410.9 L363.5,406.7 L363.6,408.0 L363.8,409.7 L363.9,407.0 L364.0,417.6" fill="none" stroke="#d8262e" stroke-width="0.9" stroke-linejoin="round" clip-path="url(#cb1)" opacity="1.0"/>
<path d="M228.00,292.30 C229.35,292.97 232.93,294.13 236.10,296.30 C239.27,298.47 243.38,301.08 247.00,305.30 C250.62,309.52 254.48,315.87 257.80,321.60 C261.12,327.33 264.18,333.67 266.90,339.70 C269.62,345.73 271.85,352.42 274.10,357.80 C276.35,363.18 278.58,366.63 280.40,372.00 C282.22,377.37 283.65,382.00 285.00,390.00 C286.35,398.00 287.58,410.83 288.50,420.00 C289.42,429.17 290.17,440.83 290.50,445.00" fill="none" stroke="#d8262e" stroke-width="1.0" stroke-linejoin="round" stroke-linecap="round" opacity="1.0" clip-path="url(#cb1)"/>
<path d="M290.5,447.7 L290.6,442.9 L290.6,444.9 L290.7,449.1 L290.8,452.1 L290.9,454.1 L291.1,453.7 L291.2,455.8 L291.3,460.7 L291.5,457.9 L291.6,456.4 L291.7,459.2 L291.9,460.3 L292.0,458.4 L292.0,458.3 L292.1,459.9 L292.1,458.3 L292.2,457.0 L292.2,457.3 L292.3,460.7 L292.3,451.0 L292.4,453.0 L292.4,451.5 L292.5,453.6 L292.5,449.4 L292.6,447.9 L292.6,448.3 L292.7,447.9 L292.7,443.3 L292.8,443.7 L292.8,442.8 L292.9,444.9 L292.9,455.2 L293.0,437.7 L293.1,437.5 L293.1,436.3 L293.2,433.2 L293.2,436.5 L293.3,431.7 L293.3,429.6 L293.4,433.0 L293.4,429.6 L293.5,428.7 L293.5,428.1 L293.6,427.9 L293.7,426.8 L293.7,423.5 L293.8,425.3 L293.8,435.5 L293.9,422.4 L293.9,418.8 L294.0,419.6 L294.1,415.7 L294.2,423.4 L294.3,414.2 L294.4,412.4 L294.5,410.6 L294.6,410.1 L294.7,412.1 L294.8,420.6 L294.9,417.7 L295.0,407.5 L295.1,408.2 L295.2,405.6 L295.3,403.5 L295.5,401.7 L295.7,401.6 L295.9,414.3 L296.1,413.4 L296.4,399.2 L297.2,398.2 L298.2,403.8 L299.3,399.5 L300.4,399.4 L301.6,404.4 L302.8,399.8 L304.0,403.8 L305.0,404.9 L306.0,403.4 L307.1,405.2 L308.2,401.3 L309.2,401.1 L310.2,403.3 L311.2,405.2 L312.1,401.6 L313.2,406.0 L314.2,403.5 L315.1,402.7 L316.0,402.3 L317.0,403.9 L318.0,408.8 L318.8,406.8 L319.7,407.5 L320.5,424.5 L321.4,409.2 L322.3,416.1 L323.2,407.2 L324.1,412.2 L325.0,409.5 L326.0,411.8 L327.0,413.5 L327.9,412.4 L328.9,413.1 L329.9,410.4 L330.9,425.3 L332.0,419.1 L333.0,409.9 L333.9,411.5 L334.9,412.6 L335.9,412.1 L337.0,412.1 L338.0,415.8 L339.0,428.4 L340.0,414.1 L341.0,412.0 L342.0,413.5 L343.0,412.2 L344.0,427.4 L345.0,417.4 L346.0,413.2 L347.0,415.2 L348.0,416.5 L349.0,429.2 L350.0,417.6 L351.0,414.7 L352.0,418.8 L353.0,414.6 L354.0,412.9 L355.0,415.1 L356.0,411.1 L357.1,414.2 L358.2,411.9 L359.4,415.8 L360.5,412.3 L361.6,410.7 L362.6,414.9 L363.4,414.1 L364.0,414.2" fill="none" stroke="#d8262e" stroke-width="0.9" stroke-linejoin="round" clip-path="url(#cb1)" opacity="1.0"/>
<path d="M227.00,328.00 C228.52,327.48 231.57,325.52 236.10,324.90 C240.63,324.28 248.17,324.00 254.20,324.30 C260.23,324.60 267.17,325.33 272.30,326.70 C277.43,328.07 281.85,330.20 285.00,332.50 C288.15,334.80 287.98,336.12 291.20,340.50 C294.42,344.88 300.60,353.78 304.30,358.80 C308.00,363.82 310.78,368.42 313.40,370.60 C316.02,372.78 317.60,371.03 320.00,371.90 C322.40,372.77 325.18,373.18 327.80,375.80 C330.42,378.42 333.08,382.58 335.70,387.60 C338.32,392.62 341.32,400.67 343.50,405.90 C345.68,411.13 347.05,419.00 348.80,419.00 C350.55,419.00 352.27,410.73 354.00,405.90 C355.73,401.07 357.62,395.65 359.20,390.00 C360.78,384.35 362.78,375.00 363.50,372.00" fill="none" stroke="#1a1a1a" stroke-width="1.0" stroke-linejoin="round" stroke-linecap="round" opacity="1.0" clip-path="url(#cb1)"/>
<path d="M227.00,328.00 C228.52,327.90 232.47,326.65 236.10,327.40 C239.73,328.15 244.88,329.23 248.80,332.50 C252.72,335.77 256.28,341.87 259.60,347.00 C262.92,352.13 266.38,358.97 268.70,363.30 C271.02,367.63 271.78,368.55 273.50,373.00 C275.22,377.45 277.25,383.00 279.00,390.00 C280.75,397.00 282.58,406.67 284.00,415.00 C285.42,423.33 286.63,432.83 287.50,440.00 C288.37,447.17 288.92,455.00 289.20,458.00" fill="none" stroke="#1a1a1a" stroke-width="1.0" stroke-linejoin="round" stroke-linecap="round" opacity="1.0" clip-path="url(#cb1)"/>
<path d="M291.0,460.7 L291.0,460.7 L291.1,456.3 L291.1,453.6 L291.1,455.1 L291.2,460.1 L291.2,455.3 L291.3,453.0 L291.3,460.7 L291.4,451.6 L291.4,450.7 L291.5,447.9 L291.5,446.8 L291.6,447.7 L291.6,442.6 L291.7,445.8 L291.8,442.8 L291.8,439.7 L291.9,439.5 L291.9,443.3 L292.0,435.1 L292.1,437.7 L292.2,434.8 L292.2,433.4 L292.3,435.6 L292.4,444.5 L292.4,432.9 L292.5,428.6 L292.6,432.4 L292.7,431.6 L292.8,440.3 L292.8,423.3 L292.9,427.1 L293.0,427.1 L293.2,423.8 L293.3,423.8 L293.5,424.0 L293.6,427.3 L293.8,416.0 L293.9,420.1 L294.1,413.1 L294.2,412.5 L294.4,416.1 L294.6,412.4 L294.8,411.7 L295.1,414.0 L295.4,413.3 L295.7,409.2 L296.0,411.4 L296.4,406.7 L297.2,407.0 L298.1,407.3 L299.1,420.7 L300.1,405.1 L301.3,408.5 L302.4,420.3 L303.6,406.4 L304.8,406.5 L306.0,405.6 L307.0,402.4 L308.1,407.8 L309.2,408.3 L310.4,406.9 L311.6,405.3 L312.7,402.7 L313.8,405.5 L314.9,406.1 L315.8,406.1 L316.7,423.6 L317.4,409.0 L318.2,409.1 L318.8,408.8 L319.1,407.8 L319.3,408.8 L319.5,410.3 L319.7,412.1 L320.0,413.8 L320.3,413.2 L320.5,413.0 L320.8,415.2 L321.0,427.9 L321.3,416.3 L321.5,419.7 L321.8,419.5 L322.1,420.4 L322.4,438.0 L322.7,422.6 L323.0,422.5 L323.4,423.2 L323.9,426.3 L324.4,441.5 L324.9,429.8 L325.4,432.8 L325.9,439.7 L326.4,428.6 L327.0,431.8 L327.5,433.4 L328.0,436.3 L328.6,435.8 L329.2,448.2 L329.7,435.4 L330.3,437.2 L330.9,439.5 L331.4,439.4 L332.0,441.1 L332.6,442.7 L333.1,441.6 L333.7,441.1 L334.2,435.6 L334.8,446.5 L335.3,435.3 L335.9,432.9 L336.4,439.7 L337.0,431.5 L337.4,433.0 L337.8,431.3 L338.2,435.2 L338.5,432.8 L338.9,436.9 L339.3,438.0 L339.7,438.6 L340.1,443.4 L340.5,442.9 L340.8,439.9 L341.2,443.1 L341.6,450.7 L342.0,448.3 L342.6,446.4 L343.2,442.7 L343.9,455.3 L344.5,441.9 L345.1,447.9 L345.8,436.7 L346.4,437.0 L347.0,439.8 L347.6,438.5 L348.1,438.0 L348.6,438.5 L349.2,441.2 L349.7,444.6 L350.3,460.7 L350.8,445.4 L351.4,443.2 L352.0,449.1 L352.7,443.1 L353.4,460.7 L354.2,454.8 L355.0,444.4 L355.7,442.6 L356.5,439.1 L357.3,443.5 L358.0,442.6 L358.5,442.0 L359.1,438.0 L359.7,439.6 L360.3,439.8 L360.8,441.5 L361.4,441.7 L361.9,448.2 L362.4,448.1 L362.8,449.5 L363.2,451.5 L363.5,450.6" fill="none" stroke="#1a1a1a" stroke-width="0.9" stroke-linejoin="round" clip-path="url(#cb1)" opacity="1.0"/>
<path d="M386.80,290.30 C387.85,289.93 390.55,288.47 393.10,288.10 C395.65,287.73 399.08,287.80 402.10,288.10 C405.12,288.40 407.57,288.55 411.20,289.90 C414.83,291.25 419.98,293.48 423.90,296.20 C427.82,298.92 431.38,302.40 434.70,306.20 C438.02,310.00 440.57,314.33 443.80,319.00 C447.03,323.67 451.38,329.32 454.10,334.20 C456.82,339.08 458.08,343.95 460.10,348.30 C462.12,352.65 464.18,356.28 466.20,360.30 C468.22,364.32 470.18,368.37 472.20,372.40 C474.22,376.43 476.45,380.80 478.30,384.50 C480.15,388.20 481.63,391.25 483.30,394.60 C484.97,397.95 487.47,402.93 488.30,404.60" fill="none" stroke="#d8262e" stroke-width="1.0" stroke-linejoin="round" stroke-linecap="round" opacity="1.0" clip-path="url(#cb2)"/>
<path d="M488.3,402.2 L488.8,404.6 L489.5,404.0 L490.4,405.3 L491.3,405.7 L492.2,409.1 L493.1,409.2 L494.0,409.4 L495.0,417.3 L495.9,411.0 L496.9,411.2 L498.0,414.5 L498.8,410.5 L499.8,411.5 L500.7,412.1 L501.7,408.0 L502.6,418.5 L503.6,410.1 L504.4,406.8 L505.1,409.7 L505.7,410.0 L506.2,408.0 L506.8,410.5 L507.3,413.2 L507.9,415.9 L508.5,417.1 L509.2,414.4 L510.1,416.7 L511.0,421.5 L512.0,419.4 L512.9,424.0 L513.9,420.2 L514.8,420.9 L515.7,418.4 L516.8,418.5 L517.9,419.3 L518.9,416.9 L519.7,416.4 L520.5,416.2 L520.7,418.1 L520.9,415.6 L521.1,413.6 L521.2,414.2 L521.4,410.2 L521.5,409.5 L521.7,411.1 L521.8,410.2 L521.9,409.0 L522.0,410.8 L522.1,404.2 L522.2,401.9 L522.3,411.6 L522.4,400.9 L522.4,403.2 L522.5,399.4" fill="none" stroke="#d8262e" stroke-width="0.9" stroke-linejoin="round" clip-path="url(#cb2)" opacity="1.0"/>
<path d="M386.80,290.30 C387.85,291.13 390.55,292.55 393.10,295.30 C395.65,298.05 399.08,302.35 402.10,306.80 C405.12,311.25 408.18,316.88 411.20,322.00 C414.22,327.12 417.48,332.67 420.20,337.50 C422.92,342.33 425.18,345.83 427.50,351.00 C429.82,356.17 431.83,361.45 434.10,368.50 C436.37,375.55 439.22,386.82 441.10,393.30 C442.98,399.78 443.75,404.12 445.40,407.40 C447.05,410.68 450.07,412.07 451.00,413.00" fill="none" stroke="#d8262e" stroke-width="1.0" stroke-linejoin="round" stroke-linecap="round" opacity="1.0" clip-path="url(#cb2)"/>
<path d="M451.0,417.4 L451.7,416.8 L452.8,425.9 L454.0,417.1 L455.3,419.4 L455.7,428.1 L456.0,426.3 L456.4,420.5 L456.8,428.0 L457.2,415.7 L457.6,421.5 L458.1,425.7 L458.5,418.9 L458.9,440.8 L459.3,426.2 L459.7,425.8 L460.1,426.9 L460.5,425.7 L460.9,427.4 L461.2,438.7 L461.5,433.0 L461.8,438.6 L462.1,442.1 L462.4,437.8 L462.7,430.3 L463.0,437.7 L463.3,437.1 L463.6,441.6 L463.9,439.7 L464.2,438.1 L464.4,457.9 L464.7,442.6 L465.0,446.2 L465.3,440.7 L465.5,455.5 L465.8,445.8 L466.5,447.8 L467.2,448.7 L467.8,451.1 L468.5,438.7 L469.2,436.7 L470.0,457.9 L470.7,441.1 L471.4,444.7 L472.1,460.5 L472.9,454.9 L473.7,446.1 L474.5,447.5 L475.2,442.3 L476.0,450.1 L476.8,443.4 L477.5,444.9 L478.2,440.3 L479.0,441.7 L479.8,454.3 L480.5,441.9 L481.2,444.2 L482.0,436.2 L482.6,443.7 L483.2,450.5 L483.8,442.0 L484.4,435.3 L485.1,452.0 L485.7,436.3 L486.3,430.1 L486.9,441.6 L487.4,434.8 L488.0,430.9 L488.7,432.2 L489.3,426.6 L490.0,431.9 L490.6,441.0 L491.2,425.1 L491.9,428.7 L492.5,422.2 L493.1,424.8 L493.8,421.6 L494.5,427.7 L495.2,423.8 L495.9,425.0 L496.6,439.4 L497.3,425.8 L498.0,444.8 L498.5,433.4 L498.9,447.9 L499.4,430.5 L499.8,433.1 L500.3,429.8 L500.7,435.0 L501.2,439.3 L501.7,439.0 L502.1,445.3 L502.6,439.9 L503.0,442.1 L503.4,441.9 L503.8,453.8 L504.2,453.2 L504.6,448.0 L505.0,447.9 L505.3,449.3 L505.7,460.7 L506.1,448.7 L506.5,460.7 L506.8,460.7 L507.2,453.9 L507.6,460.7 L507.9,456.2 L508.1,458.1 L508.4,451.1 L508.6,447.0 L508.9,448.4 L509.1,460.7 L509.4,448.8 L509.6,442.1 L509.9,447.4 L510.2,439.7 L510.4,443.2 L510.7,446.0 L510.9,436.6 L511.2,444.5 L511.5,434.2 L511.7,438.0 L512.0,446.2 L512.4,435.6 L512.9,437.8 L513.3,440.4 L513.8,443.0 L514.2,433.9 L514.7,428.5 L515.1,432.1 L515.6,431.4 L516.1,430.5 L516.5,434.4 L517.0,426.8 L517.7,427.9 L518.5,420.7 L519.3,427.2 L520.1,430.4 L520.8,415.9 L521.5,414.7 L522.1,420.2 L522.5,422.6" fill="none" stroke="#d8262e" stroke-width="0.9" stroke-linejoin="round" clip-path="url(#cb2)" opacity="1.0"/>
<path d="M386.20,314.90 C387.35,314.50 388.93,312.98 393.10,312.50 C397.27,312.02 405.17,311.85 411.20,312.00 C417.23,312.15 423.87,312.40 429.30,313.40 C434.73,314.40 439.52,315.88 443.80,318.00 C448.08,320.12 451.92,322.95 455.00,326.10 C458.08,329.25 459.20,332.28 462.30,336.90 C465.40,341.52 470.55,348.87 473.60,353.80 C476.65,358.73 478.27,363.68 480.60,366.50 C482.93,369.32 485.02,369.28 487.60,370.70 C490.18,372.12 493.27,372.65 496.10,375.00 C498.93,377.35 502.25,382.47 504.60,384.80 C506.95,387.13 508.33,388.77 510.20,389.00 C512.07,389.23 514.33,388.53 515.80,386.20 C517.27,383.87 518.00,379.45 519.00,375.00 C520.00,370.55 521.33,362.08 521.80,359.50" fill="none" stroke="#1a1a1a" stroke-width="1.0" stroke-linejoin="round" stroke-linecap="round" opacity="1.0" clip-path="url(#cb2)"/>
<path d="M386.20,314.90 C387.35,315.67 390.45,317.23 393.10,319.50 C395.75,321.77 399.08,325.08 402.10,328.50 C405.12,331.92 408.18,336.00 411.20,340.00 C414.22,344.00 417.27,348.12 420.20,352.50 C423.13,356.88 426.42,362.05 428.80,366.30 C431.18,370.55 432.68,374.22 434.50,378.00 C436.32,381.78 437.95,384.83 439.70,389.00 C441.45,393.17 444.12,400.67 445.00,403.00" fill="none" stroke="#1a1a1a" stroke-width="1.0" stroke-linejoin="round" stroke-linecap="round" opacity="1.0" clip-path="url(#cb2)"/>
<path d="M445.0,403.3 L445.5,404.9 L446.1,405.0 L447.0,407.0 L448.0,406.7 L448.8,406.6 L449.7,407.3 L450.8,409.7 L451.8,407.4 L452.8,408.6 L453.8,409.3 L454.9,408.3 L455.9,409.9 L456.9,408.1 L457.9,404.6 L459.0,405.1 L459.9,407.5 L460.8,403.9 L461.7,404.3 L462.6,403.2 L463.8,404.2 L465.1,403.2 L465.9,402.2 L466.7,405.0 L467.6,401.8 L468.5,401.3 L469.4,400.5 L470.4,400.6 L471.4,402.1 L472.4,400.7 L473.5,400.5 L474.5,399.0 L475.4,399.3 L476.4,400.1 L477.4,405.5 L478.5,397.8 L479.5,399.3 L480.6,395.7 L481.7,400.2 L482.7,396.8 L483.7,395.9 L484.8,395.7 L485.7,397.0 L486.7,399.5 L487.6,396.0 L488.8,392.6 L489.9,394.9 L490.9,392.7 L492.0,394.5 L493.0,394.6 L494.0,394.3 L495.0,394.3 L496.0,392.9 L497.1,393.9 L498.2,393.2 L499.3,390.4 L500.4,392.5 L501.5,390.8 L502.5,394.0 L503.6,393.9 L504.6,392.2 L505.7,400.2 L506.7,391.3 L507.7,393.0 L508.7,396.2 L509.7,392.6 L510.8,389.5 L512.0,392.3 L512.9,392.5 L514.0,391.8 L515.1,395.5 L516.2,390.7 L517.4,388.3 L518.5,389.0 L519.5,389.3 L520.4,387.5 L521.2,387.5 L521.8,388.6" fill="none" stroke="#1a1a1a" stroke-width="0.9" stroke-linejoin="round" clip-path="url(#cb2)" opacity="1.0"/>
<path d="M544.10,302.20 C547.28,302.20 556.67,301.70 563.20,302.20 C569.73,302.70 577.62,303.53 583.30,305.20 C588.98,306.87 593.68,310.02 597.30,312.20 C600.92,314.38 602.55,316.23 605.00,318.30 C607.45,320.37 609.65,322.48 612.00,324.60 C614.35,326.72 616.75,329.00 619.10,331.00 C621.45,333.00 623.75,334.97 626.10,336.60 C628.45,338.23 630.85,339.90 633.20,340.80 C635.55,341.70 637.85,342.00 640.20,342.00 C642.55,342.00 643.78,341.47 647.30,340.80 C650.82,340.13 655.85,339.13 661.30,338.00 C666.75,336.87 676.88,334.67 680.00,334.00" fill="none" stroke="#d8262e" stroke-width="1.0" stroke-linejoin="round" stroke-linecap="round" opacity="1.0" clip-path="url(#cb3)"/>
<path d="M544.10,302.20 C545.60,302.70 548.25,302.87 553.10,305.20 C557.95,307.53 567.17,312.35 573.20,316.20 C579.23,320.05 584.62,324.78 589.30,328.30 C593.98,331.82 598.68,335.33 601.30,337.30 C603.92,339.27 603.22,338.92 605.00,340.10 C606.78,341.28 609.65,343.52 612.00,344.40 C614.35,345.28 616.75,345.28 619.10,345.40 C621.45,345.52 622.58,345.50 626.10,345.10 C629.62,344.70 635.50,343.90 640.20,343.00 C644.90,342.10 649.60,340.77 654.30,339.70 C659.00,338.63 664.12,337.55 668.40,336.60 C672.68,335.65 678.07,334.43 680.00,334.00" fill="none" stroke="#d8262e" stroke-width="1.0" stroke-linejoin="round" stroke-linecap="round" opacity="1.0" clip-path="url(#cb3)"/>
<path d="M544.10,350.40 C545.60,349.57 548.25,347.58 553.10,345.40 C557.95,343.22 566.50,339.48 573.20,337.30 C579.90,335.12 588.00,333.23 593.30,332.30 C598.60,331.37 601.88,331.80 605.00,331.70 C608.12,331.60 608.48,331.58 612.00,331.70 C615.52,331.82 621.40,331.70 626.10,332.40 C630.80,333.10 635.50,334.25 640.20,335.90 C644.90,337.55 650.30,340.82 654.30,342.30 C658.30,343.78 661.15,344.38 664.20,344.80 C667.25,345.22 669.97,345.27 672.60,344.80 C675.23,344.33 678.77,342.47 680.00,342.00" fill="none" stroke="#1a1a1a" stroke-width="1.0" stroke-linejoin="round" stroke-linecap="round" opacity="1.0" clip-path="url(#cb3)"/>
<path d="M544.10,350.40 C545.60,349.90 549.92,348.23 553.10,347.40 C556.28,346.57 559.85,345.63 563.20,345.40 C566.55,345.17 568.18,345.17 573.20,346.00 C578.22,346.83 588.00,348.68 593.30,350.40 C598.60,352.12 601.88,355.08 605.00,356.30 C608.12,357.52 609.18,357.50 612.00,357.70 C614.82,357.90 618.37,357.95 621.90,357.50 C625.43,357.05 628.97,356.12 633.20,355.00 C637.43,353.88 642.62,352.03 647.30,350.80 C651.98,349.57 655.85,348.98 661.30,347.60 C666.75,346.22 676.88,343.35 680.00,342.50" fill="none" stroke="#1a1a1a" stroke-width="1.0" stroke-linejoin="round" stroke-linecap="round" opacity="1.0" clip-path="url(#cb3)"/>
<rect x="56.0" y="9.8" width="148.8" height="197.79999999999998" fill="none" stroke="#5a5a5a" stroke-width="1.5"/>
<line x1="67.45" y1="207.60" x2="67.45" y2="203.80" stroke="#5a5a5a" stroke-width="1.0"/>
<line x1="90.34" y1="207.60" x2="90.34" y2="205.40" stroke="#5a5a5a" stroke-width="1.0"/>
<line x1="113.23" y1="207.60" x2="113.23" y2="203.80" stroke="#5a5a5a" stroke-width="1.0"/>
<line x1="136.12" y1="207.60" x2="136.12" y2="205.40" stroke="#5a5a5a" stroke-width="1.0"/>
<line x1="159.02" y1="207.60" x2="159.02" y2="203.80" stroke="#5a5a5a" stroke-width="1.0"/>
<line x1="181.91" y1="207.60" x2="181.91" y2="205.40" stroke="#5a5a5a" stroke-width="1.0"/>
<line x1="56.00" y1="14.70" x2="59.80" y2="14.70" stroke="#5a5a5a" stroke-width="1.0"/>
<line x1="56.00" y1="32.28" x2="58.20" y2="32.28" stroke="#5a5a5a" stroke-width="1.0"/>
<line x1="56.00" y1="49.86" x2="59.80" y2="49.86" stroke="#5a5a5a" stroke-width="1.0"/>
<line x1="56.00" y1="67.44" x2="58.20" y2="67.44" stroke="#5a5a5a" stroke-width="1.0"/>
<line x1="56.00" y1="85.02" x2="59.80" y2="85.02" stroke="#5a5a5a" stroke-width="1.0"/>
<line x1="56.00" y1="102.60" x2="58.20" y2="102.60" stroke="#5a5a5a" stroke-width="1.0"/>
<line x1="56.00" y1="120.18" x2="59.80" y2="120.18" stroke="#5a5a5a" stroke-width="1.0"/>
<line x1="56.00" y1="137.76" x2="58.20" y2="137.76" stroke="#5a5a5a" stroke-width="1.0"/>
<line x1="56.00" y1="155.34" x2="59.80" y2="155.34" stroke="#5a5a5a" stroke-width="1.0"/>
<line x1="56.00" y1="172.92" x2="58.20" y2="172.92" stroke="#5a5a5a" stroke-width="1.0"/>
<line x1="56.00" y1="190.50" x2="59.80" y2="190.50" stroke="#5a5a5a" stroke-width="1.0"/>
<rect x="56.0" y="260.4" width="148.8" height="198.3" fill="none" stroke="#5a5a5a" stroke-width="1.5"/>
<line x1="69.53" y1="458.70" x2="69.53" y2="456.50" stroke="#5a5a5a" stroke-width="1.0"/>
<line x1="83.05" y1="458.70" x2="83.05" y2="454.90" stroke="#5a5a5a" stroke-width="1.0"/>
<line x1="96.58" y1="458.70" x2="96.58" y2="456.50" stroke="#5a5a5a" stroke-width="1.0"/>
<line x1="110.11" y1="458.70" x2="110.11" y2="454.90" stroke="#5a5a5a" stroke-width="1.0"/>
<line x1="123.64" y1="458.70" x2="123.64" y2="456.50" stroke="#5a5a5a" stroke-width="1.0"/>
<line x1="137.16" y1="458.70" x2="137.16" y2="454.90" stroke="#5a5a5a" stroke-width="1.0"/>
<line x1="150.69" y1="458.70" x2="150.69" y2="456.50" stroke="#5a5a5a" stroke-width="1.0"/>
<line x1="164.22" y1="458.70" x2="164.22" y2="454.90" stroke="#5a5a5a" stroke-width="1.0"/>
<line x1="177.75" y1="458.70" x2="177.75" y2="456.50" stroke="#5a5a5a" stroke-width="1.0"/>
<line x1="191.27" y1="458.70" x2="191.27" y2="454.90" stroke="#5a5a5a" stroke-width="1.0"/>
<line x1="56.00" y1="452.04" x2="58.00" y2="452.04" stroke="#5a5a5a" stroke-width="1.0"/>
<line x1="56.00" y1="447.23" x2="58.00" y2="447.23" stroke="#5a5a5a" stroke-width="1.0"/>
<line x1="56.00" y1="443.30" x2="58.00" y2="443.30" stroke="#5a5a5a" stroke-width="1.0"/>
<line x1="56.00" y1="439.98" x2="58.00" y2="439.98" stroke="#5a5a5a" stroke-width="1.0"/>
<line x1="56.00" y1="437.11" x2="58.00" y2="437.11" stroke="#5a5a5a" stroke-width="1.0"/>
<line x1="56.00" y1="434.57" x2="58.00" y2="434.57" stroke="#5a5a5a" stroke-width="1.0"/>
<line x1="56.00" y1="432.30" x2="59.80" y2="432.30" stroke="#5a5a5a" stroke-width="1.0"/>
<line x1="56.00" y1="417.37" x2="58.00" y2="417.37" stroke="#5a5a5a" stroke-width="1.0"/>
<line x1="56.00" y1="408.63" x2="58.00" y2="408.63" stroke="#5a5a5a" stroke-width="1.0"/>
<line x1="56.00" y1="402.44" x2="58.00" y2="402.44" stroke="#5a5a5a" stroke-width="1.0"/>
<line x1="56.00" y1="397.63" x2="58.00" y2="397.63" stroke="#5a5a5a" stroke-width="1.0"/>
<line x1="56.00" y1="393.70" x2="58.00" y2="393.70" stroke="#5a5a5a" stroke-width="1.0"/>
<line x1="56.00" y1="390.38" x2="58.00" y2="390.38" stroke="#5a5a5a" stroke-width="1.0"/>
<line x1="56.00" y1="387.51" x2="58.00" y2="387.51" stroke="#5a5a5a" stroke-width="1.0"/>
<line x1="56.00" y1="384.97" x2="58.00" y2="384.97" stroke="#5a5a5a" stroke-width="1.0"/>
<line x1="56.00" y1="382.70" x2="59.80" y2="382.70" stroke="#5a5a5a" stroke-width="1.0"/>
<line x1="56.00" y1="367.77" x2="58.00" y2="367.77" stroke="#5a5a5a" stroke-width="1.0"/>
<line x1="56.00" y1="359.03" x2="58.00" y2="359.03" stroke="#5a5a5a" stroke-width="1.0"/>
<line x1="56.00" y1="352.84" x2="58.00" y2="352.84" stroke="#5a5a5a" stroke-width="1.0"/>
<line x1="56.00" y1="348.03" x2="58.00" y2="348.03" stroke="#5a5a5a" stroke-width="1.0"/>
<line x1="56.00" y1="344.10" x2="58.00" y2="344.10" stroke="#5a5a5a" stroke-width="1.0"/>
<line x1="56.00" y1="340.78" x2="58.00" y2="340.78" stroke="#5a5a5a" stroke-width="1.0"/>
<line x1="56.00" y1="337.91" x2="58.00" y2="337.91" stroke="#5a5a5a" stroke-width="1.0"/>
<line x1="56.00" y1="335.37" x2="58.00" y2="335.37" stroke="#5a5a5a" stroke-width="1.0"/>
<line x1="56.00" y1="333.10" x2="59.80" y2="333.10" stroke="#5a5a5a" stroke-width="1.0"/>
<line x1="56.00" y1="318.17" x2="58.00" y2="318.17" stroke="#5a5a5a" stroke-width="1.0"/>
<line x1="56.00" y1="309.43" x2="58.00" y2="309.43" stroke="#5a5a5a" stroke-width="1.0"/>
<line x1="56.00" y1="303.24" x2="58.00" y2="303.24" stroke="#5a5a5a" stroke-width="1.0"/>
<line x1="56.00" y1="298.43" x2="58.00" y2="298.43" stroke="#5a5a5a" stroke-width="1.0"/>
<line x1="56.00" y1="294.50" x2="58.00" y2="294.50" stroke="#5a5a5a" stroke-width="1.0"/>
<line x1="56.00" y1="291.18" x2="58.00" y2="291.18" stroke="#5a5a5a" stroke-width="1.0"/>
<line x1="56.00" y1="288.31" x2="58.00" y2="288.31" stroke="#5a5a5a" stroke-width="1.0"/>
<line x1="56.00" y1="285.77" x2="58.00" y2="285.77" stroke="#5a5a5a" stroke-width="1.0"/>
<line x1="56.00" y1="283.50" x2="59.80" y2="283.50" stroke="#5a5a5a" stroke-width="1.0"/>
<line x1="56.00" y1="268.57" x2="58.00" y2="268.57" stroke="#5a5a5a" stroke-width="1.0"/>
<rect x="214.7" y="9.8" width="148.8" height="197.79999999999998" fill="none" stroke="#5a5a5a" stroke-width="1.5"/>
<line x1="226.15" y1="207.60" x2="226.15" y2="203.80" stroke="#5a5a5a" stroke-width="1.0"/>
<line x1="249.04" y1="207.60" x2="249.04" y2="205.40" stroke="#5a5a5a" stroke-width="1.0"/>
<line x1="271.93" y1="207.60" x2="271.93" y2="203.80" stroke="#5a5a5a" stroke-width="1.0"/>
<line x1="294.82" y1="207.60" x2="294.82" y2="205.40" stroke="#5a5a5a" stroke-width="1.0"/>
<line x1="317.72" y1="207.60" x2="317.72" y2="203.80" stroke="#5a5a5a" stroke-width="1.0"/>
<line x1="340.61" y1="207.60" x2="340.61" y2="205.40" stroke="#5a5a5a" stroke-width="1.0"/>
<line x1="214.70" y1="14.70" x2="218.50" y2="14.70" stroke="#5a5a5a" stroke-width="1.0"/>
<line x1="214.70" y1="32.28" x2="216.90" y2="32.28" stroke="#5a5a5a" stroke-width="1.0"/>
<line x1="214.70" y1="49.86" x2="218.50" y2="49.86" stroke="#5a5a5a" stroke-width="1.0"/>
<line x1="214.70" y1="67.44" x2="216.90" y2="67.44" stroke="#5a5a5a" stroke-width="1.0"/>
<line x1="214.70" y1="85.02" x2="218.50" y2="85.02" stroke="#5a5a5a" stroke-width="1.0"/>
<line x1="214.70" y1="102.60" x2="216.90" y2="102.60" stroke="#5a5a5a" stroke-width="1.0"/>
<line x1="214.70" y1="120.18" x2="218.50" y2="120.18" stroke="#5a5a5a" stroke-width="1.0"/>
<line x1="214.70" y1="137.76" x2="216.90" y2="137.76" stroke="#5a5a5a" stroke-width="1.0"/>
<line x1="214.70" y1="155.34" x2="218.50" y2="155.34" stroke="#5a5a5a" stroke-width="1.0"/>
<line x1="214.70" y1="172.92" x2="216.90" y2="172.92" stroke="#5a5a5a" stroke-width="1.0"/>
<line x1="214.70" y1="190.50" x2="218.50" y2="190.50" stroke="#5a5a5a" stroke-width="1.0"/>
<rect x="214.7" y="260.4" width="148.8" height="198.3" fill="none" stroke="#5a5a5a" stroke-width="1.5"/>
<line x1="228.23" y1="458.70" x2="228.23" y2="456.50" stroke="#5a5a5a" stroke-width="1.0"/>
<line x1="241.75" y1="458.70" x2="241.75" y2="454.90" stroke="#5a5a5a" stroke-width="1.0"/>
<line x1="255.28" y1="458.70" x2="255.28" y2="456.50" stroke="#5a5a5a" stroke-width="1.0"/>
<line x1="268.81" y1="458.70" x2="268.81" y2="454.90" stroke="#5a5a5a" stroke-width="1.0"/>
<line x1="282.34" y1="458.70" x2="282.34" y2="456.50" stroke="#5a5a5a" stroke-width="1.0"/>
<line x1="295.86" y1="458.70" x2="295.86" y2="454.90" stroke="#5a5a5a" stroke-width="1.0"/>
<line x1="309.39" y1="458.70" x2="309.39" y2="456.50" stroke="#5a5a5a" stroke-width="1.0"/>
<line x1="322.92" y1="458.70" x2="322.92" y2="454.90" stroke="#5a5a5a" stroke-width="1.0"/>
<line x1="336.45" y1="458.70" x2="336.45" y2="456.50" stroke="#5a5a5a" stroke-width="1.0"/>
<line x1="349.97" y1="458.70" x2="349.97" y2="454.90" stroke="#5a5a5a" stroke-width="1.0"/>
<line x1="214.70" y1="452.04" x2="216.70" y2="452.04" stroke="#5a5a5a" stroke-width="1.0"/>
<line x1="214.70" y1="447.23" x2="216.70" y2="447.23" stroke="#5a5a5a" stroke-width="1.0"/>
<line x1="214.70" y1="443.30" x2="216.70" y2="443.30" stroke="#5a5a5a" stroke-width="1.0"/>
<line x1="214.70" y1="439.98" x2="216.70" y2="439.98" stroke="#5a5a5a" stroke-width="1.0"/>
<line x1="214.70" y1="437.11" x2="216.70" y2="437.11" stroke="#5a5a5a" stroke-width="1.0"/>
<line x1="214.70" y1="434.57" x2="216.70" y2="434.57" stroke="#5a5a5a" stroke-width="1.0"/>
<line x1="214.70" y1="432.30" x2="218.50" y2="432.30" stroke="#5a5a5a" stroke-width="1.0"/>
<line x1="214.70" y1="417.37" x2="216.70" y2="417.37" stroke="#5a5a5a" stroke-width="1.0"/>
<line x1="214.70" y1="408.63" x2="216.70" y2="408.63" stroke="#5a5a5a" stroke-width="1.0"/>
<line x1="214.70" y1="402.44" x2="216.70" y2="402.44" stroke="#5a5a5a" stroke-width="1.0"/>
<line x1="214.70" y1="397.63" x2="216.70" y2="397.63" stroke="#5a5a5a" stroke-width="1.0"/>
<line x1="214.70" y1="393.70" x2="216.70" y2="393.70" stroke="#5a5a5a" stroke-width="1.0"/>
<line x1="214.70" y1="390.38" x2="216.70" y2="390.38" stroke="#5a5a5a" stroke-width="1.0"/>
<line x1="214.70" y1="387.51" x2="216.70" y2="387.51" stroke="#5a5a5a" stroke-width="1.0"/>
<line x1="214.70" y1="384.97" x2="216.70" y2="384.97" stroke="#5a5a5a" stroke-width="1.0"/>
<line x1="214.70" y1="382.70" x2="218.50" y2="382.70" stroke="#5a5a5a" stroke-width="1.0"/>
<line x1="214.70" y1="367.77" x2="216.70" y2="367.77" stroke="#5a5a5a" stroke-width="1.0"/>
<line x1="214.70" y1="359.03" x2="216.70" y2="359.03" stroke="#5a5a5a" stroke-width="1.0"/>
<line x1="214.70" y1="352.84" x2="216.70" y2="352.84" stroke="#5a5a5a" stroke-width="1.0"/>
<line x1="214.70" y1="348.03" x2="216.70" y2="348.03" stroke="#5a5a5a" stroke-width="1.0"/>
<line x1="214.70" y1="344.10" x2="216.70" y2="344.10" stroke="#5a5a5a" stroke-width="1.0"/>
<line x1="214.70" y1="340.78" x2="216.70" y2="340.78" stroke="#5a5a5a" stroke-width="1.0"/>
<line x1="214.70" y1="337.91" x2="216.70" y2="337.91" stroke="#5a5a5a" stroke-width="1.0"/>
<line x1="214.70" y1="335.37" x2="216.70" y2="335.37" stroke="#5a5a5a" stroke-width="1.0"/>
<line x1="214.70" y1="333.10" x2="218.50" y2="333.10" stroke="#5a5a5a" stroke-width="1.0"/>
<line x1="214.70" y1="318.17" x2="216.70" y2="318.17" stroke="#5a5a5a" stroke-width="1.0"/>
<line x1="214.70" y1="309.43" x2="216.70" y2="309.43" stroke="#5a5a5a" stroke-width="1.0"/>
<line x1="214.70" y1="303.24" x2="216.70" y2="303.24" stroke="#5a5a5a" stroke-width="1.0"/>
<line x1="214.70" y1="298.43" x2="216.70" y2="298.43" stroke="#5a5a5a" stroke-width="1.0"/>
<line x1="214.70" y1="294.50" x2="216.70" y2="294.50" stroke="#5a5a5a" stroke-width="1.0"/>
<line x1="214.70" y1="291.18" x2="216.70" y2="291.18" stroke="#5a5a5a" stroke-width="1.0"/>
<line x1="214.70" y1="288.31" x2="216.70" y2="288.31" stroke="#5a5a5a" stroke-width="1.0"/>
<line x1="214.70" y1="285.77" x2="216.70" y2="285.77" stroke="#5a5a5a" stroke-width="1.0"/>
<line x1="214.70" y1="283.50" x2="218.50" y2="283.50" stroke="#5a5a5a" stroke-width="1.0"/>
<line x1="214.70" y1="268.57" x2="216.70" y2="268.57" stroke="#5a5a5a" stroke-width="1.0"/>
<rect x="373.6" y="9.8" width="148.8" height="197.79999999999998" fill="none" stroke="#5a5a5a" stroke-width="1.5"/>
<line x1="385.05" y1="207.60" x2="385.05" y2="203.80" stroke="#5a5a5a" stroke-width="1.0"/>
<line x1="407.94" y1="207.60" x2="407.94" y2="205.40" stroke="#5a5a5a" stroke-width="1.0"/>
<line x1="430.83" y1="207.60" x2="430.83" y2="203.80" stroke="#5a5a5a" stroke-width="1.0"/>
<line x1="453.72" y1="207.60" x2="453.72" y2="205.40" stroke="#5a5a5a" stroke-width="1.0"/>
<line x1="476.62" y1="207.60" x2="476.62" y2="203.80" stroke="#5a5a5a" stroke-width="1.0"/>
<line x1="499.51" y1="207.60" x2="499.51" y2="205.40" stroke="#5a5a5a" stroke-width="1.0"/>
<line x1="373.60" y1="14.70" x2="377.40" y2="14.70" stroke="#5a5a5a" stroke-width="1.0"/>
<line x1="373.60" y1="32.28" x2="375.80" y2="32.28" stroke="#5a5a5a" stroke-width="1.0"/>
<line x1="373.60" y1="49.86" x2="377.40" y2="49.86" stroke="#5a5a5a" stroke-width="1.0"/>
<line x1="373.60" y1="67.44" x2="375.80" y2="67.44" stroke="#5a5a5a" stroke-width="1.0"/>
<line x1="373.60" y1="85.02" x2="377.40" y2="85.02" stroke="#5a5a5a" stroke-width="1.0"/>
<line x1="373.60" y1="102.60" x2="375.80" y2="102.60" stroke="#5a5a5a" stroke-width="1.0"/>
<line x1="373.60" y1="120.18" x2="377.40" y2="120.18" stroke="#5a5a5a" stroke-width="1.0"/>
<line x1="373.60" y1="137.76" x2="375.80" y2="137.76" stroke="#5a5a5a" stroke-width="1.0"/>
<line x1="373.60" y1="155.34" x2="377.40" y2="155.34" stroke="#5a5a5a" stroke-width="1.0"/>
<line x1="373.60" y1="172.92" x2="375.80" y2="172.92" stroke="#5a5a5a" stroke-width="1.0"/>
<line x1="373.60" y1="190.50" x2="377.40" y2="190.50" stroke="#5a5a5a" stroke-width="1.0"/>
<rect x="373.6" y="260.4" width="148.8" height="198.3" fill="none" stroke="#5a5a5a" stroke-width="1.5"/>
<line x1="387.13" y1="458.70" x2="387.13" y2="456.50" stroke="#5a5a5a" stroke-width="1.0"/>
<line x1="400.65" y1="458.70" x2="400.65" y2="454.90" stroke="#5a5a5a" stroke-width="1.0"/>
<line x1="414.18" y1="458.70" x2="414.18" y2="456.50" stroke="#5a5a5a" stroke-width="1.0"/>
<line x1="427.71" y1="458.70" x2="427.71" y2="454.90" stroke="#5a5a5a" stroke-width="1.0"/>
<line x1="441.24" y1="458.70" x2="441.24" y2="456.50" stroke="#5a5a5a" stroke-width="1.0"/>
<line x1="454.76" y1="458.70" x2="454.76" y2="454.90" stroke="#5a5a5a" stroke-width="1.0"/>
<line x1="468.29" y1="458.70" x2="468.29" y2="456.50" stroke="#5a5a5a" stroke-width="1.0"/>
<line x1="481.82" y1="458.70" x2="481.82" y2="454.90" stroke="#5a5a5a" stroke-width="1.0"/>
<line x1="495.35" y1="458.70" x2="495.35" y2="456.50" stroke="#5a5a5a" stroke-width="1.0"/>
<line x1="508.87" y1="458.70" x2="508.87" y2="454.90" stroke="#5a5a5a" stroke-width="1.0"/>
<line x1="373.60" y1="452.04" x2="375.60" y2="452.04" stroke="#5a5a5a" stroke-width="1.0"/>
<line x1="373.60" y1="447.23" x2="375.60" y2="447.23" stroke="#5a5a5a" stroke-width="1.0"/>
<line x1="373.60" y1="443.30" x2="375.60" y2="443.30" stroke="#5a5a5a" stroke-width="1.0"/>
<line x1="373.60" y1="439.98" x2="375.60" y2="439.98" stroke="#5a5a5a" stroke-width="1.0"/>
<line x1="373.60" y1="437.11" x2="375.60" y2="437.11" stroke="#5a5a5a" stroke-width="1.0"/>
<line x1="373.60" y1="434.57" x2="375.60" y2="434.57" stroke="#5a5a5a" stroke-width="1.0"/>
<line x1="373.60" y1="432.30" x2="377.40" y2="432.30" stroke="#5a5a5a" stroke-width="1.0"/>
<line x1="373.60" y1="417.37" x2="375.60" y2="417.37" stroke="#5a5a5a" stroke-width="1.0"/>
<line x1="373.60" y1="408.63" x2="375.60" y2="408.63" stroke="#5a5a5a" stroke-width="1.0"/>
<line x1="373.60" y1="402.44" x2="375.60" y2="402.44" stroke="#5a5a5a" stroke-width="1.0"/>
<line x1="373.60" y1="397.63" x2="375.60" y2="397.63" stroke="#5a5a5a" stroke-width="1.0"/>
<line x1="373.60" y1="393.70" x2="375.60" y2="393.70" stroke="#5a5a5a" stroke-width="1.0"/>
<line x1="373.60" y1="390.38" x2="375.60" y2="390.38" stroke="#5a5a5a" stroke-width="1.0"/>
<line x1="373.60" y1="387.51" x2="375.60" y2="387.51" stroke="#5a5a5a" stroke-width="1.0"/>
<line x1="373.60" y1="384.97" x2="375.60" y2="384.97" stroke="#5a5a5a" stroke-width="1.0"/>
<line x1="373.60" y1="382.70" x2="377.40" y2="382.70" stroke="#5a5a5a" stroke-width="1.0"/>
<line x1="373.60" y1="367.77" x2="375.60" y2="367.77" stroke="#5a5a5a" stroke-width="1.0"/>
<line x1="373.60" y1="359.03" x2="375.60" y2="359.03" stroke="#5a5a5a" stroke-width="1.0"/>
<line x1="373.60" y1="352.84" x2="375.60" y2="352.84" stroke="#5a5a5a" stroke-width="1.0"/>
<line x1="373.60" y1="348.03" x2="375.60" y2="348.03" stroke="#5a5a5a" stroke-width="1.0"/>
<line x1="373.60" y1="344.10" x2="375.60" y2="344.10" stroke="#5a5a5a" stroke-width="1.0"/>
<line x1="373.60" y1="340.78" x2="375.60" y2="340.78" stroke="#5a5a5a" stroke-width="1.0"/>
<line x1="373.60" y1="337.91" x2="375.60" y2="337.91" stroke="#5a5a5a" stroke-width="1.0"/>
<line x1="373.60" y1="335.37" x2="375.60" y2="335.37" stroke="#5a5a5a" stroke-width="1.0"/>
<line x1="373.60" y1="333.10" x2="377.40" y2="333.10" stroke="#5a5a5a" stroke-width="1.0"/>
<line x1="373.60" y1="318.17" x2="375.60" y2="318.17" stroke="#5a5a5a" stroke-width="1.0"/>
<line x1="373.60" y1="309.43" x2="375.60" y2="309.43" stroke="#5a5a5a" stroke-width="1.0"/>
<line x1="373.60" y1="303.24" x2="375.60" y2="303.24" stroke="#5a5a5a" stroke-width="1.0"/>
<line x1="373.60" y1="298.43" x2="375.60" y2="298.43" stroke="#5a5a5a" stroke-width="1.0"/>
<line x1="373.60" y1="294.50" x2="375.60" y2="294.50" stroke="#5a5a5a" stroke-width="1.0"/>
<line x1="373.60" y1="291.18" x2="375.60" y2="291.18" stroke="#5a5a5a" stroke-width="1.0"/>
<line x1="373.60" y1="288.31" x2="375.60" y2="288.31" stroke="#5a5a5a" stroke-width="1.0"/>
<line x1="373.60" y1="285.77" x2="375.60" y2="285.77" stroke="#5a5a5a" stroke-width="1.0"/>
<line x1="373.60" y1="283.50" x2="377.40" y2="283.50" stroke="#5a5a5a" stroke-width="1.0"/>
<line x1="373.60" y1="268.57" x2="375.60" y2="268.57" stroke="#5a5a5a" stroke-width="1.0"/>
<rect x="531.0" y="9.8" width="148.8" height="197.79999999999998" fill="none" stroke="#5a5a5a" stroke-width="1.5"/>
<line x1="542.45" y1="207.60" x2="542.45" y2="203.80" stroke="#5a5a5a" stroke-width="1.0"/>
<line x1="565.34" y1="207.60" x2="565.34" y2="205.40" stroke="#5a5a5a" stroke-width="1.0"/>
<line x1="588.23" y1="207.60" x2="588.23" y2="203.80" stroke="#5a5a5a" stroke-width="1.0"/>
<line x1="611.12" y1="207.60" x2="611.12" y2="205.40" stroke="#5a5a5a" stroke-width="1.0"/>
<line x1="634.02" y1="207.60" x2="634.02" y2="203.80" stroke="#5a5a5a" stroke-width="1.0"/>
<line x1="656.91" y1="207.60" x2="656.91" y2="205.40" stroke="#5a5a5a" stroke-width="1.0"/>
<line x1="531.00" y1="14.70" x2="534.80" y2="14.70" stroke="#5a5a5a" stroke-width="1.0"/>
<line x1="531.00" y1="32.28" x2="533.20" y2="32.28" stroke="#5a5a5a" stroke-width="1.0"/>
<line x1="531.00" y1="49.86" x2="534.80" y2="49.86" stroke="#5a5a5a" stroke-width="1.0"/>
<line x1="531.00" y1="67.44" x2="533.20" y2="67.44" stroke="#5a5a5a" stroke-width="1.0"/>
<line x1="531.00" y1="85.02" x2="534.80" y2="85.02" stroke="#5a5a5a" stroke-width="1.0"/>
<line x1="531.00" y1="102.60" x2="533.20" y2="102.60" stroke="#5a5a5a" stroke-width="1.0"/>
<line x1="531.00" y1="120.18" x2="534.80" y2="120.18" stroke="#5a5a5a" stroke-width="1.0"/>
<line x1="531.00" y1="137.76" x2="533.20" y2="137.76" stroke="#5a5a5a" stroke-width="1.0"/>
<line x1="531.00" y1="155.34" x2="534.80" y2="155.34" stroke="#5a5a5a" stroke-width="1.0"/>
<line x1="531.00" y1="172.92" x2="533.20" y2="172.92" stroke="#5a5a5a" stroke-width="1.0"/>
<line x1="531.00" y1="190.50" x2="534.80" y2="190.50" stroke="#5a5a5a" stroke-width="1.0"/>
<rect x="531.0" y="260.4" width="148.8" height="198.3" fill="none" stroke="#5a5a5a" stroke-width="1.5"/>
<line x1="544.53" y1="458.70" x2="544.53" y2="456.50" stroke="#5a5a5a" stroke-width="1.0"/>
<line x1="558.05" y1="458.70" x2="558.05" y2="454.90" stroke="#5a5a5a" stroke-width="1.0"/>
<line x1="571.58" y1="458.70" x2="571.58" y2="456.50" stroke="#5a5a5a" stroke-width="1.0"/>
<line x1="585.11" y1="458.70" x2="585.11" y2="454.90" stroke="#5a5a5a" stroke-width="1.0"/>
<line x1="598.64" y1="458.70" x2="598.64" y2="456.50" stroke="#5a5a5a" stroke-width="1.0"/>
<line x1="612.16" y1="458.70" x2="612.16" y2="454.90" stroke="#5a5a5a" stroke-width="1.0"/>
<line x1="625.69" y1="458.70" x2="625.69" y2="456.50" stroke="#5a5a5a" stroke-width="1.0"/>
<line x1="639.22" y1="458.70" x2="639.22" y2="454.90" stroke="#5a5a5a" stroke-width="1.0"/>
<line x1="652.75" y1="458.70" x2="652.75" y2="456.50" stroke="#5a5a5a" stroke-width="1.0"/>
<line x1="666.27" y1="458.70" x2="666.27" y2="454.90" stroke="#5a5a5a" stroke-width="1.0"/>
<line x1="531.00" y1="452.04" x2="533.00" y2="452.04" stroke="#5a5a5a" stroke-width="1.0"/>
<line x1="531.00" y1="447.23" x2="533.00" y2="447.23" stroke="#5a5a5a" stroke-width="1.0"/>
<line x1="531.00" y1="443.30" x2="533.00" y2="443.30" stroke="#5a5a5a" stroke-width="1.0"/>
<line x1="531.00" y1="439.98" x2="533.00" y2="439.98" stroke="#5a5a5a" stroke-width="1.0"/>
<line x1="531.00" y1="437.11" x2="533.00" y2="437.11" stroke="#5a5a5a" stroke-width="1.0"/>
<line x1="531.00" y1="434.57" x2="533.00" y2="434.57" stroke="#5a5a5a" stroke-width="1.0"/>
<line x1="531.00" y1="432.30" x2="534.80" y2="432.30" stroke="#5a5a5a" stroke-width="1.0"/>
<line x1="531.00" y1="417.37" x2="533.00" y2="417.37" stroke="#5a5a5a" stroke-width="1.0"/>
<line x1="531.00" y1="408.63" x2="533.00" y2="408.63" stroke="#5a5a5a" stroke-width="1.0"/>
<line x1="531.00" y1="402.44" x2="533.00" y2="402.44" stroke="#5a5a5a" stroke-width="1.0"/>
<line x1="531.00" y1="397.63" x2="533.00" y2="397.63" stroke="#5a5a5a" stroke-width="1.0"/>
<line x1="531.00" y1="393.70" x2="533.00" y2="393.70" stroke="#5a5a5a" stroke-width="1.0"/>
<line x1="531.00" y1="390.38" x2="533.00" y2="390.38" stroke="#5a5a5a" stroke-width="1.0"/>
<line x1="531.00" y1="387.51" x2="533.00" y2="387.51" stroke="#5a5a5a" stroke-width="1.0"/>
<line x1="531.00" y1="384.97" x2="533.00" y2="384.97" stroke="#5a5a5a" stroke-width="1.0"/>
<line x1="531.00" y1="382.70" x2="534.80" y2="382.70" stroke="#5a5a5a" stroke-width="1.0"/>
<line x1="531.00" y1="367.77" x2="533.00" y2="367.77" stroke="#5a5a5a" stroke-width="1.0"/>
<line x1="531.00" y1="359.03" x2="533.00" y2="359.03" stroke="#5a5a5a" stroke-width="1.0"/>
<line x1="531.00" y1="352.84" x2="533.00" y2="352.84" stroke="#5a5a5a" stroke-width="1.0"/>
<line x1="531.00" y1="348.03" x2="533.00" y2="348.03" stroke="#5a5a5a" stroke-width="1.0"/>
<line x1="531.00" y1="344.10" x2="533.00" y2="344.10" stroke="#5a5a5a" stroke-width="1.0"/>
<line x1="531.00" y1="340.78" x2="533.00" y2="340.78" stroke="#5a5a5a" stroke-width="1.0"/>
<line x1="531.00" y1="337.91" x2="533.00" y2="337.91" stroke="#5a5a5a" stroke-width="1.0"/>
<line x1="531.00" y1="335.37" x2="533.00" y2="335.37" stroke="#5a5a5a" stroke-width="1.0"/>
<line x1="531.00" y1="333.10" x2="534.80" y2="333.10" stroke="#5a5a5a" stroke-width="1.0"/>
<line x1="531.00" y1="318.17" x2="533.00" y2="318.17" stroke="#5a5a5a" stroke-width="1.0"/>
<line x1="531.00" y1="309.43" x2="533.00" y2="309.43" stroke="#5a5a5a" stroke-width="1.0"/>
<line x1="531.00" y1="303.24" x2="533.00" y2="303.24" stroke="#5a5a5a" stroke-width="1.0"/>
<line x1="531.00" y1="298.43" x2="533.00" y2="298.43" stroke="#5a5a5a" stroke-width="1.0"/>
<line x1="531.00" y1="294.50" x2="533.00" y2="294.50" stroke="#5a5a5a" stroke-width="1.0"/>
<line x1="531.00" y1="291.18" x2="533.00" y2="291.18" stroke="#5a5a5a" stroke-width="1.0"/>
<line x1="531.00" y1="288.31" x2="533.00" y2="288.31" stroke="#5a5a5a" stroke-width="1.0"/>
<line x1="531.00" y1="285.77" x2="533.00" y2="285.77" stroke="#5a5a5a" stroke-width="1.0"/>
<line x1="531.00" y1="283.50" x2="534.80" y2="283.50" stroke="#5a5a5a" stroke-width="1.0"/>
<line x1="531.00" y1="268.57" x2="533.00" y2="268.57" stroke="#5a5a5a" stroke-width="1.0"/>
<text x="51.20" y="18.10" font-size="13.8" font-weight="normal" text-anchor="end" fill="#111" >0</text>
<text x="51.20" y="53.26" font-size="13.8" font-weight="normal" text-anchor="end" fill="#111" >-20</text>
<text x="51.20" y="88.42" font-size="13.8" font-weight="normal" text-anchor="end" fill="#111" >-40</text>
<text x="51.20" y="123.58" font-size="13.8" font-weight="normal" text-anchor="end" fill="#111" >-60</text>
<text x="51.20" y="158.74" font-size="13.8" font-weight="normal" text-anchor="end" fill="#111" >-80</text>
<text x="51.20" y="193.90" font-size="13.8" font-weight="normal" text-anchor="end" fill="#111" >-100</text>
<text x="67.45" y="224.60" font-size="14" font-weight="normal" text-anchor="middle" fill="#111" >-6</text>
<text x="113.23" y="224.60" font-size="14" font-weight="normal" text-anchor="middle" fill="#111" >-4</text>
<text x="159.02" y="224.60" font-size="14" font-weight="normal" text-anchor="middle" fill="#111" >-2</text>
<text x="204.80" y="224.60" font-size="14" font-weight="normal" text-anchor="middle" fill="#111" >0</text>
<text x="55.10" y="474.60" font-size="14" font-weight="normal" text-anchor="middle" fill="#111" >-6</text>
<text x="82.15" y="474.60" font-size="14" font-weight="normal" text-anchor="middle" fill="#111" >-4</text>
<text x="109.21" y="474.60" font-size="14" font-weight="normal" text-anchor="middle" fill="#111" >-2</text>
<text x="136.26" y="474.60" font-size="14" font-weight="normal" text-anchor="middle" fill="#111" >0</text>
<text x="163.32" y="474.60" font-size="14" font-weight="normal" text-anchor="middle" fill="#111" >2</text>
<text x="190.37" y="474.60" font-size="14" font-weight="normal" text-anchor="middle" fill="#111" >4</text>
<text x="133.15" y="242.5" font-size="14.5" font-weight="bold" text-anchor="middle">V<tspan font-size="10" dy="3">D</tspan><tspan dy="-3"> (V)</tspan></text>
<text x="133.85" y="493.5" font-size="14.5" font-weight="bold" text-anchor="middle">V<tspan font-size="10" dy="3">G</tspan><tspan dy="-3"> (V)</tspan></text>
<text x="226.15" y="224.60" font-size="14" font-weight="normal" text-anchor="middle" fill="#111" >-6</text>
<text x="271.93" y="224.60" font-size="14" font-weight="normal" text-anchor="middle" fill="#111" >-4</text>
<text x="317.72" y="224.60" font-size="14" font-weight="normal" text-anchor="middle" fill="#111" >-2</text>
<text x="363.50" y="224.60" font-size="14" font-weight="normal" text-anchor="middle" fill="#111" >0</text>
<text x="213.80" y="474.60" font-size="14" font-weight="normal" text-anchor="middle" fill="#111" >-6</text>
<text x="240.85" y="474.60" font-size="14" font-weight="normal" text-anchor="middle" fill="#111" >-4</text>
<text x="267.91" y="474.60" font-size="14" font-weight="normal" text-anchor="middle" fill="#111" >-2</text>
<text x="294.96" y="474.60" font-size="14" font-weight="normal" text-anchor="middle" fill="#111" >0</text>
<text x="322.02" y="474.60" font-size="14" font-weight="normal" text-anchor="middle" fill="#111" >2</text>
<text x="349.07" y="474.60" font-size="14" font-weight="normal" text-anchor="middle" fill="#111" >4</text>
<text x="291.85" y="242.5" font-size="14.5" font-weight="bold" text-anchor="middle">V<tspan font-size="10" dy="3">D</tspan><tspan dy="-3"> (V)</tspan></text>
<text x="292.45" y="493.5" font-size="14.5" font-weight="bold" text-anchor="middle">V<tspan font-size="10" dy="3">G</tspan><tspan dy="-3"> (V)</tspan></text>
<text x="385.05" y="224.60" font-size="14" font-weight="normal" text-anchor="middle" fill="#111" >-6</text>
<text x="430.83" y="224.60" font-size="14" font-weight="normal" text-anchor="middle" fill="#111" >-4</text>
<text x="476.62" y="224.60" font-size="14" font-weight="normal" text-anchor="middle" fill="#111" >-2</text>
<text x="522.40" y="224.60" font-size="14" font-weight="normal" text-anchor="middle" fill="#111" >0</text>
<text x="372.70" y="474.60" font-size="14" font-weight="normal" text-anchor="middle" fill="#111" >-6</text>
<text x="399.75" y="474.60" font-size="14" font-weight="normal" text-anchor="middle" fill="#111" >-4</text>
<text x="426.81" y="474.60" font-size="14" font-weight="normal" text-anchor="middle" fill="#111" >-2</text>
<text x="453.86" y="474.60" font-size="14" font-weight="normal" text-anchor="middle" fill="#111" >0</text>
<text x="480.92" y="474.60" font-size="14" font-weight="normal" text-anchor="middle" fill="#111" >2</text>
<text x="507.97" y="474.60" font-size="14" font-weight="normal" text-anchor="middle" fill="#111" >4</text>
<text x="450.00" y="242.5" font-size="14.5" font-weight="bold" text-anchor="middle">V<tspan font-size="10" dy="3">D</tspan><tspan dy="-3"> (V)</tspan></text>
<text x="450.70" y="493.5" font-size="14.5" font-weight="bold" text-anchor="middle">V<tspan font-size="10" dy="3">G</tspan><tspan dy="-3"> (V)</tspan></text>
<text x="542.45" y="224.60" font-size="14" font-weight="normal" text-anchor="middle" fill="#111" >-6</text>
<text x="588.23" y="224.60" font-size="14" font-weight="normal" text-anchor="middle" fill="#111" >-4</text>
<text x="634.02" y="224.60" font-size="14" font-weight="normal" text-anchor="middle" fill="#111" >-2</text>
<text x="679.80" y="224.60" font-size="14" font-weight="normal" text-anchor="middle" fill="#111" >0</text>
<text x="530.10" y="474.60" font-size="14" font-weight="normal" text-anchor="middle" fill="#111" >-6</text>
<text x="557.15" y="474.60" font-size="14" font-weight="normal" text-anchor="middle" fill="#111" >-4</text>
<text x="584.21" y="474.60" font-size="14" font-weight="normal" text-anchor="middle" fill="#111" >-2</text>
<text x="611.26" y="474.60" font-size="14" font-weight="normal" text-anchor="middle" fill="#111" >0</text>
<text x="638.32" y="474.60" font-size="14" font-weight="normal" text-anchor="middle" fill="#111" >2</text>
<text x="665.37" y="474.60" font-size="14" font-weight="normal" text-anchor="middle" fill="#111" >4</text>
<text x="612.40" y="242.5" font-size="14.5" font-weight="bold" text-anchor="middle">V<tspan font-size="10" dy="3">D</tspan><tspan dy="-3"> (V)</tspan></text>
<text x="608.95" y="493.5" font-size="14.5" font-weight="bold" text-anchor="middle">V<tspan font-size="10" dy="3">G</tspan><tspan dy="-3"> (V)</tspan></text>
<text x="50.3" y="288.50" font-size="14" text-anchor="end" fill="#111">10<tspan font-size="8.3" dy="-7.3">-7</tspan></text>
<text x="50.3" y="338.10" font-size="14" text-anchor="end" fill="#111">10<tspan font-size="8.3" dy="-7.3">-8</tspan></text>
<text x="50.3" y="387.70" font-size="14" text-anchor="end" fill="#111">10<tspan font-size="8.3" dy="-7.3">-9</tspan></text>
<text x="50.3" y="437.30" font-size="14" text-anchor="end" fill="#111">10<tspan font-size="8.3" dy="-7.3">-10</tspan></text>
<text transform="translate(18.3,119) rotate(-90)" font-size="15.2" font-weight="bold" text-anchor="middle">I<tspan font-size="10.5" dy="3">D</tspan><tspan dy="-3"> (nA)</tspan></text>
<text transform="translate(18.3,352.6) rotate(-90)" font-size="15.2" font-weight="bold" text-anchor="middle">I<tspan font-size="10.5" dy="3">D</tspan><tspan dy="-3"> (A)</tspan></text>
<text x="0.50" y="14.50" font-size="19" font-weight="bold" text-anchor="start" fill="#000" >(a)</text>
<text x="1.20" y="265.60" font-size="19" font-weight="bold" text-anchor="start" fill="#000" >(b)</text>
<text x="67.40" y="26.60" font-size="13.5" font-weight="bold" text-anchor="start" fill="#000" >0 V</text>
<text x="63.20" y="78.20" font-size="13.5" font-weight="bold" text-anchor="start" fill="#000" >-5 V</text>
<text x="66.8" y="97.5" font-size="13.5" font-weight="bold">V<tspan font-size="9.5" dy="2.6">G</tspan></text>
<text x="90.80" y="69.20" font-size="13.5" font-weight="bold" text-anchor="start" fill="#1414dd" >B</text>
<text x="100.80" y="84.30" font-size="13.5" font-weight="bold" text-anchor="start" fill="#1414dd" >F</text>
<line x1="70.60" y1="30.00" x2="70.60" y2="57.20" stroke="#e2a24e" stroke-width="1.8"/>
<path d="M67.00,56.70 L74.20,56.70 L70.60,63.90 Z" fill="#f7920c"/>
<text x="223.60" y="27.80" font-size="13.5" font-weight="bold" text-anchor="start" fill="#000" >0 V</text>
<text x="220.50" y="94.30" font-size="13.5" font-weight="bold" text-anchor="start" fill="#000" >-5 V</text>
<line x1="226.50" y1="32.40" x2="226.50" y2="72.20" stroke="#e2a24e" stroke-width="1.8"/>
<path d="M222.90,71.70 L230.10,71.70 L226.50,78.90 Z" fill="#f7920c"/>
<text x="384.70" y="27.60" font-size="13.5" font-weight="bold" text-anchor="start" fill="#000" >0 V</text>
<text x="380.60" y="192.60" font-size="13.5" font-weight="bold" text-anchor="start" fill="#000" >-5 V</text>
<line x1="388.10" y1="31.70" x2="388.10" y2="168.40" stroke="#e2a24e" stroke-width="1.8"/>
<path d="M384.10,167.90 L392.10,167.90 L388.10,174.90 Z" fill="#f7920c"/>
<text x="539.80" y="32.70" font-size="13.5" font-weight="bold" text-anchor="start" fill="#000" >0 V</text>
<text x="536.00" y="145.70" font-size="13.5" font-weight="bold" text-anchor="start" fill="#000" >-5 V</text>
<line x1="542.30" y1="36.50" x2="542.30" y2="126.20" stroke="#e2a24e" stroke-width="1.8"/>
<path d="M538.70,125.70 L545.90,125.70 L542.30,132.90 Z" fill="#f7920c"/>
<text x="408.50" y="63.50" font-size="13.5" font-weight="bold" text-anchor="start" fill="#1414dd" >B</text>
<text x="403.00" y="90.50" font-size="13.5" font-weight="bold" text-anchor="start" fill="#1414dd" >F</text>
<path d="M101.10,67.60 C103.92,67.25 112.73,66.47 118.00,65.50 C123.27,64.53 130.24,62.39 132.69,61.77" fill="none" stroke="#8c8662" stroke-width="1.4" stroke-linecap="round"/>
<path d="M138.30,60.30 L132.66,65.61 L132.88,61.72 L130.78,58.45 Z" fill="#8c8662"/>
<path d="M148.00,67.80 C145.00,68.75 135.42,71.87 130.00,73.50 C124.58,75.13 117.91,76.88 115.49,77.55" fill="none" stroke="#8c8662" stroke-width="1.4" stroke-linecap="round"/>
<path d="M109.90,79.10 L115.47,73.72 L115.30,77.61 L117.44,80.85 Z" fill="#8c8662"/>
<path d="M419.90,60.50 C422.75,59.83 431.89,58.21 437.00,56.50 C442.11,54.79 448.31,51.26 450.57,50.21" fill="none" stroke="#8c8662" stroke-width="1.4" stroke-linecap="round"/>
<path d="M455.80,47.70 L451.27,53.98 L450.75,50.13 L448.07,47.31 Z" fill="#8c8662"/>
<path d="M449.80,73.20 C446.83,74.25 437.24,77.89 432.00,79.50 C426.76,81.11 420.62,82.30 418.34,82.86" fill="none" stroke="#8c8662" stroke-width="1.4" stroke-linecap="round"/>
<path d="M412.70,84.20 L418.46,79.03 L418.15,82.91 L420.17,86.23 Z" fill="#8c8662"/>
<text x="174.90" y="184.70" font-size="12.6" font-weight="bold" text-anchor="middle" fill="#000" >PVP =</text>
<text x="174.90" y="200.70" font-size="12.6" font-weight="bold" text-anchor="middle" fill="#000" >0 mol.%</text>
<text x="334.70" y="184.10" font-size="12.6" font-weight="bold" text-anchor="middle" fill="#000" >PVP =</text>
<text x="334.70" y="200.10" font-size="12.6" font-weight="bold" text-anchor="middle" fill="#000" >5 mol.%</text>
<text x="488.50" y="184.50" font-size="12.6" font-weight="bold" text-anchor="middle" fill="#000" >PVP =</text>
<text x="488.50" y="200.50" font-size="12.6" font-weight="bold" text-anchor="middle" fill="#000" >10 mol.%</text>
<text x="646.80" y="184.30" font-size="12.6" font-weight="bold" text-anchor="middle" fill="#000" >PVP =</text>
<text x="646.80" y="200.30" font-size="12.6" font-weight="bold" text-anchor="middle" fill="#000" >100 mol.%</text>
<text x="179.40" y="272.40" font-size="12.6" font-weight="bold" text-anchor="middle" fill="#000" >PVP =</text>
<text x="179.40" y="288.40" font-size="12.6" font-weight="bold" text-anchor="middle" fill="#000" >0 mol.%</text>
<text x="338.50" y="272.70" font-size="12.6" font-weight="bold" text-anchor="middle" fill="#000" >PVP =</text>
<text x="338.50" y="288.70" font-size="12.6" font-weight="bold" text-anchor="middle" fill="#000" >5 mol.%</text>
<text x="494.10" y="272.50" font-size="12.6" font-weight="bold" text-anchor="middle" fill="#000" >PVP =</text>
<text x="494.10" y="288.50" font-size="12.6" font-weight="bold" text-anchor="middle" fill="#000" >10 mol.%</text>
<text x="647.70" y="273.00" font-size="12.6" font-weight="bold" text-anchor="middle" fill="#000" >PVP =</text>
<text x="647.70" y="289.00" font-size="12.6" font-weight="bold" text-anchor="middle" fill="#000" >100 mol.%</text>
<text x="63.0" y="294.8" font-size="13.5" font-weight="bold" fill="#dc1020">V<tspan font-size="9.5" dy="2.8">D</tspan><tspan dy="-2.8"> =</tspan></text>
<text x="63.80" y="311.30" font-size="13.5" font-weight="bold" text-anchor="start" fill="#dc1020" >-5 V</text>
<text x="64.30" y="335.20" font-size="13.5" font-weight="bold" text-anchor="start" fill="#1414dd" >F</text>
<text x="108.70" y="339.90" font-size="13.5" font-weight="bold" text-anchor="start" fill="#1414dd" >B</text>
<text x="61.50" y="372.30" font-size="13.5" font-weight="bold" text-anchor="start" fill="#000" >-1 V</text>
<text x="221.30" y="288.50" font-size="13.5" font-weight="bold" text-anchor="start" fill="#dc1020" >-5 V</text>
<text x="218.60" y="347.80" font-size="13.5" font-weight="bold" text-anchor="start" fill="#000" >-1 V</text>
<text x="378.70" y="282.60" font-size="13.5" font-weight="bold" text-anchor="start" fill="#dc1020" >-5 V</text>
<text x="376.90" y="343.20" font-size="13.5" font-weight="bold" text-anchor="start" fill="#000" >-1 V</text>
<text x="537.10" y="295.60" font-size="13.5" font-weight="bold" text-anchor="start" fill="#dc1020" >-5 V</text>
<text x="536.70" y="370.00" font-size="13.5" font-weight="bold" text-anchor="start" fill="#000" >-1 V</text>
<path d="M83.50,323.00 C85.42,323.92 92.15,326.57 95.00,328.50 C97.85,330.43 99.65,333.54 100.58,334.55" fill="none" stroke="#8c8662" stroke-width="1.4" stroke-linecap="round"/>
<path d="M104.30,339.00 L97.10,336.16 L100.70,334.71 L102.77,331.41 Z" fill="#8c8662"/>
<path d="M93.50,349.80 C91.92,347.92 86.50,341.04 84.00,338.50 C81.50,335.96 79.40,335.20 78.48,334.54" fill="none" stroke="#8c8662" stroke-width="1.4" stroke-linecap="round"/>
<path d="M73.60,331.40 L81.32,331.97 L78.31,334.43 L77.32,338.19 Z" fill="#8c8662"/>
<path d="M108.10,413.50 C107.25,411.42 104.11,404.00 103.00,401.00 C101.89,398.00 101.70,396.43 101.44,395.52" fill="none" stroke="#8c8662" stroke-width="1.4" stroke-linecap="round"/>
<path d="M100.00,389.90 L105.27,395.57 L101.39,395.33 L98.10,397.40 Z" fill="#8c8662"/>
<path d="M108.10,375.40 C109.08,377.08 112.60,382.50 114.00,385.50 C115.40,388.50 116.08,392.10 116.50,393.43" fill="none" stroke="#8c8662" stroke-width="1.4" stroke-linecap="round"/>
<path d="M118.10,399.00 L112.67,393.49 L116.55,393.62 L119.78,391.44 Z" fill="#8c8662"/>
<path d="M253.30,296.30 C255.25,297.17 262.26,299.71 265.00,301.50 C267.74,303.29 268.95,306.12 269.74,307.05" fill="none" stroke="#8c8662" stroke-width="1.4" stroke-linecap="round"/>
<path d="M273.20,311.70 L266.17,308.46 L269.86,307.21 L272.11,304.04 Z" fill="#8c8662"/>
<path d="M247.90,316.20 C246.42,314.33 241.32,307.41 239.00,305.00 C236.68,302.59 234.83,302.30 234.00,301.76" fill="none" stroke="#8c8662" stroke-width="1.4" stroke-linecap="round"/>
<path d="M228.90,299.00 L236.64,298.98 L233.82,301.67 L233.12,305.49 Z" fill="#8c8662"/>
<path d="M266.90,366.90 C265.75,364.92 261.73,357.63 260.00,355.00 C258.27,352.37 257.09,351.74 256.51,351.09" fill="none" stroke="#8c8662" stroke-width="1.4" stroke-linecap="round"/>
<path d="M252.40,347.00 L259.83,349.18 L256.37,350.95 L254.61,354.42 Z" fill="#8c8662"/>
<path d="M301.60,341.80 C303.00,343.08 307.95,346.70 310.00,349.50 C312.05,352.30 313.25,357.08 313.90,358.59" fill="none" stroke="#8c8662" stroke-width="1.4" stroke-linecap="round"/>
<path d="M316.00,364.00 L310.09,359.00 L313.97,358.78 L316.99,356.32 Z" fill="#8c8662"/>
<path d="M414.80,285.90 C416.67,286.83 423.26,289.49 426.00,291.50 C428.74,293.51 430.38,296.86 431.26,297.93" fill="none" stroke="#8c8662" stroke-width="1.4" stroke-linecap="round"/>
<path d="M434.70,302.60 L427.69,299.32 L431.38,298.09 L433.64,294.93 Z" fill="#8c8662"/>
<path d="M433.00,345.20 C432.25,343.00 429.94,335.05 428.50,332.00 C427.06,328.95 425.06,327.77 424.37,326.93" fill="none" stroke="#8c8662" stroke-width="1.4" stroke-linecap="round"/>
<path d="M420.40,322.70 L427.75,325.12 L424.24,326.78 L422.36,330.19 Z" fill="#8c8662"/>
<path d="M423.90,368.50 C422.92,366.42 419.77,358.93 418.00,356.00 C416.23,353.07 414.07,351.77 413.28,350.92" fill="none" stroke="#8c8662" stroke-width="1.4" stroke-linecap="round"/>
<path d="M409.10,346.90 L416.57,348.95 L413.14,350.78 L411.44,354.28 Z" fill="#8c8662"/>
<path d="M470.70,328.50 C472.00,330.08 476.65,334.71 478.50,338.00 C480.35,341.29 481.24,346.52 481.79,348.23" fill="none" stroke="#8c8662" stroke-width="1.4" stroke-linecap="round"/>
<path d="M483.40,353.80 L477.96,348.30 L481.84,348.42 L485.07,346.24 Z" fill="#8c8662"/>
<path d="M587.30,302.20 C589.42,302.92 597.03,304.95 600.00,306.50 C602.97,308.05 604.28,310.64 605.14,311.47" fill="none" stroke="#8c8662" stroke-width="1.4" stroke-linecap="round"/>
<path d="M609.00,315.80 L601.71,313.19 L605.27,311.62 L607.23,308.26 Z" fill="#8c8662"/>
<path d="M571.20,322.30 C569.33,321.00 562.91,316.12 560.00,314.50 C557.09,312.88 554.78,312.89 553.74,312.57" fill="none" stroke="#8c8662" stroke-width="1.4" stroke-linecap="round"/>
<path d="M548.10,311.20 L555.58,309.21 L553.54,312.52 L553.84,316.40 Z" fill="#8c8662"/>
<path d="M554.10,336.30 C556.08,335.42 562.78,332.07 566.00,331.00 C569.22,329.93 572.19,330.09 573.43,329.91" fill="none" stroke="#8c8662" stroke-width="1.4" stroke-linecap="round"/>
<path d="M579.20,329.30 L572.82,333.69 L573.63,329.89 L572.05,326.33 Z" fill="#8c8662"/>
<path d="M592.30,357.40 C590.25,356.70 583.22,354.00 580.00,353.20 C576.78,352.40 574.16,352.72 573.00,352.63" fill="none" stroke="#8c8662" stroke-width="1.4" stroke-linecap="round"/>
<path d="M567.20,352.40 L574.14,348.97 L572.80,352.62 L573.85,356.37 Z" fill="#8c8662"/>
</svg></body></html>
